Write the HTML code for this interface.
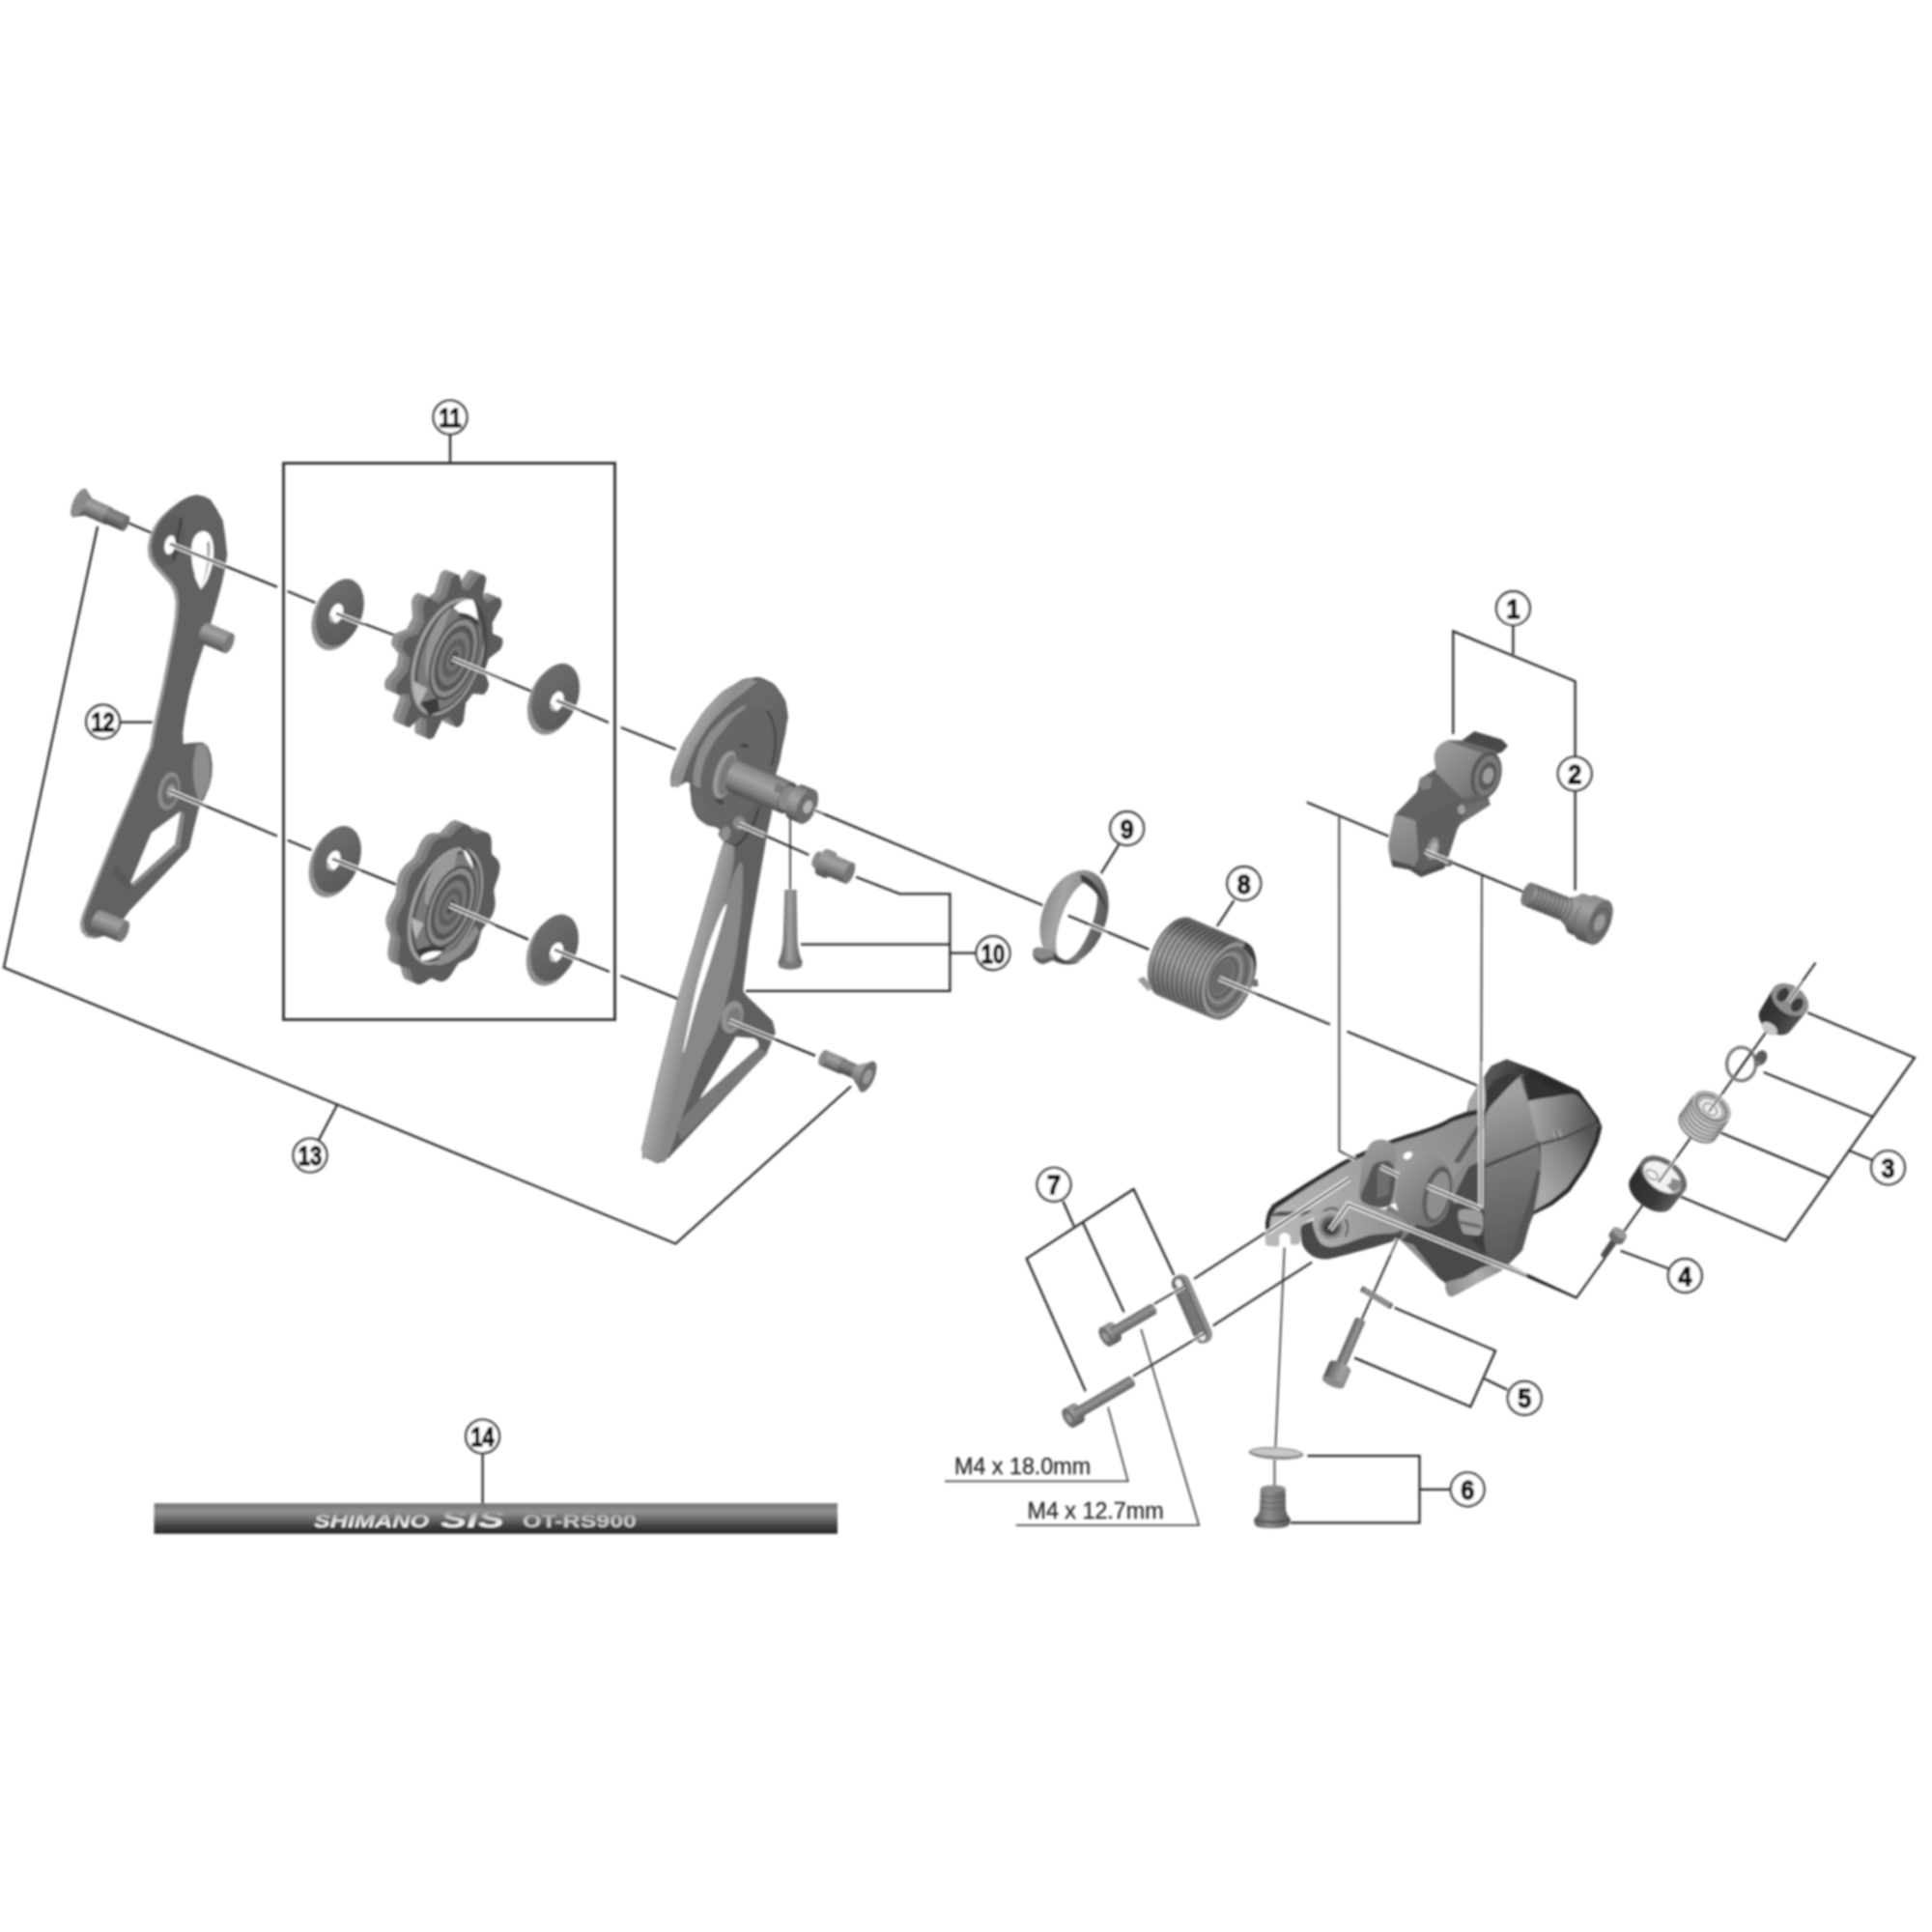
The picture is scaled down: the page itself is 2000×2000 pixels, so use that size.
<!DOCTYPE html>
<html><head><meta charset="utf-8"><title>RD exploded view</title>
<style>html,body{margin:0;padding:0;background:#fff}svg{display:block}</style></head>
<body><svg width="2000" height="2000" viewBox="0 0 2000 2000">
<defs><filter id="soft" x="0" y="0" width="2000" height="2000" filterUnits="userSpaceOnUse"><feGaussianBlur stdDeviation="0.85"/></filter><linearGradient id="mg1" x1="0" y1="0" x2="0" y2="1"><stop offset="0" stop-color="#8a8a8a"/><stop offset="0.35" stop-color="#a2a2a2"/><stop offset="0.7" stop-color="#7a7a7a"/><stop offset="1" stop-color="#525252"/></linearGradient><linearGradient id="mg2" x1="0" y1="0" x2="0" y2="1"><stop offset="0" stop-color="#707070"/><stop offset="0.35" stop-color="#8a8a8a"/><stop offset="0.7" stop-color="#666"/><stop offset="1" stop-color="#444"/></linearGradient><linearGradient id="pl12" gradientUnits="userSpaceOnUse" x1="150" y1="520" x2="240" y2="560"><stop offset="0" stop-color="#6a6a6a"/><stop offset="1" stop-color="#5a5a5a"/></linearGradient><linearGradient id="w3" x1="0" y1="0" x2="1" y2="1"><stop offset="0" stop-color="#727272"/><stop offset="1" stop-color="#565656"/></linearGradient><linearGradient id="w4" x1="0" y1="0" x2="1" y2="1"><stop offset="0" stop-color="#727272"/><stop offset="1" stop-color="#565656"/></linearGradient><linearGradient id="w5" x1="0" y1="0" x2="1" y2="1"><stop offset="0" stop-color="#727272"/><stop offset="1" stop-color="#565656"/></linearGradient><linearGradient id="w6" x1="0" y1="0" x2="1" y2="1"><stop offset="0" stop-color="#727272"/><stop offset="1" stop-color="#565656"/></linearGradient><linearGradient id="armd" gradientUnits="userSpaceOnUse" x1="700" y1="1000" x2="800" y2="1030"><stop offset="0" stop-color="#6c6c6c"/><stop offset="1" stop-color="#585858"/></linearGradient><linearGradient id="arml" gradientUnits="userSpaceOnUse" x1="690" y1="1000" x2="730" y2="1010"><stop offset="0" stop-color="#8c8c8c"/><stop offset="0.5" stop-color="#a8a8a8"/><stop offset="1" stop-color="#8a8a8a"/></linearGradient><linearGradient id="disc" gradientUnits="userSpaceOnUse" x1="700" y1="740" x2="820" y2="800"><stop offset="0" stop-color="#5c5c5c"/><stop offset="0.5" stop-color="#6a6a6a"/><stop offset="1" stop-color="#5e5e5e"/></linearGradient><linearGradient id="flg" gradientUnits="userSpaceOnUse" x1="700" y1="740" x2="730" y2="760"><stop offset="0" stop-color="#8e8e8e"/><stop offset="0.5" stop-color="#aaaaaa"/><stop offset="1" stop-color="#909090"/></linearGradient><linearGradient id="mg7" x1="0" y1="0" x2="0" y2="1"><stop offset="0" stop-color="#5a5a5a"/><stop offset="0.15" stop-color="#8a8a8a"/><stop offset="0.45" stop-color="#a4a4a4"/><stop offset="0.75" stop-color="#808080"/><stop offset="1" stop-color="#4a4a4a"/></linearGradient><linearGradient id="pin" gradientUnits="userSpaceOnUse" x1="810" y1="0" x2="828" y2="0"><stop offset="0" stop-color="#6a6a6a"/><stop offset="0.4" stop-color="#a0a0a0"/><stop offset="1" stop-color="#666"/></linearGradient><linearGradient id="rg9" gradientUnits="userSpaceOnUse" x1="1078" y1="940" x2="1148" y2="960"><stop offset="0" stop-color="#8a8a8a"/><stop offset="0.25" stop-color="#a6a6a6"/><stop offset="0.5" stop-color="#8c8c8c"/><stop offset="0.8" stop-color="#666"/><stop offset="1" stop-color="#555"/></linearGradient><linearGradient id="mg8" x1="0" y1="0" x2="0" y2="1"><stop offset="0" stop-color="#333"/><stop offset="0.12" stop-color="#4a4a4a"/><stop offset="0.3" stop-color="#8e8e8e"/><stop offset="0.55" stop-color="#9c9c9c"/><stop offset="0.8" stop-color="#6e6e6e"/><stop offset="1" stop-color="#444"/></linearGradient><linearGradient id="p1a" gradientUnits="userSpaceOnUse" x1="1440" y1="840" x2="1470" y2="900"><stop offset="0" stop-color="#9a9a9a"/><stop offset="1" stop-color="#7a7a7a"/></linearGradient><linearGradient id="p1c" gradientUnits="userSpaceOnUse" x1="1490" y1="770" x2="1540" y2="830"><stop offset="0" stop-color="#9c9c9c"/><stop offset="0.6" stop-color="#808080"/><stop offset="1" stop-color="#666"/></linearGradient><linearGradient id="mg9" x1="0" y1="0" x2="0" y2="1"><stop offset="0" stop-color="#6a6a6a"/><stop offset="0.3" stop-color="#9a9a9a"/><stop offset="0.7" stop-color="#777"/><stop offset="1" stop-color="#4c4c4c"/></linearGradient><linearGradient id="hzb" gradientUnits="userSpaceOnUse" x1="1545.9" y1="1101.8" x2="1650.1" y2="1154.9"><stop offset="0" stop-color="#5a5a5a"/><stop offset="0.35" stop-color="#2e2e2e"/><stop offset="1" stop-color="#262626"/></linearGradient><linearGradient id="hze" gradientUnits="userSpaceOnUse" x1="1575.4" y1="1149.0" x2="1646.2" y2="1154.9"><stop offset="0" stop-color="#b2b2b2"/><stop offset="0.45" stop-color="#8c8c8c"/><stop offset="1" stop-color="#585858"/></linearGradient><linearGradient id="hzf" gradientUnits="userSpaceOnUse" x1="1591.1" y1="1227.7" x2="1654.1" y2="1184.4"><stop offset="0" stop-color="#aaaaaa"/><stop offset="0.55" stop-color="#868686"/><stop offset="1" stop-color="#545454"/></linearGradient><linearGradient id="hzc" gradientUnits="userSpaceOnUse" x1="1541.9" y1="1139.2" x2="1585.2" y2="1286.7"><stop offset="0" stop-color="#a0a0a0"/><stop offset="0.45" stop-color="#787878"/><stop offset="1" stop-color="#5c5c5c"/></linearGradient><linearGradient id="hzm" gradientUnits="userSpaceOnUse" x1="1496.7" y1="1335.9" x2="1561.6" y2="1306.4"><stop offset="0" stop-color="#8a8a8a"/><stop offset="0.5" stop-color="#b0b0b0"/><stop offset="1" stop-color="#808080"/></linearGradient><linearGradient id="lk1" gradientUnits="userSpaceOnUse" x1="1319.7" y1="1286.7" x2="1516.4" y2="1158.8"><stop offset="0" stop-color="#b8b8b8"/><stop offset="0.5" stop-color="#a2a2a2"/><stop offset="1" stop-color="#8c8c8c"/></linearGradient><linearGradient id="lk2" gradientUnits="userSpaceOnUse" x1="1359.0" y1="1286.7" x2="1449.5" y2="1259.2"><stop offset="0" stop-color="#b0b0b0"/><stop offset="1" stop-color="#909090"/></linearGradient><linearGradient id="kn1" gradientUnits="userSpaceOnUse" x1="1410.1" y1="1184.4" x2="1445.6" y2="1247.4"><stop offset="0" stop-color="#9c9c9c"/><stop offset="1" stop-color="#787878"/></linearGradient><linearGradient id="kn2" gradientUnits="userSpaceOnUse" x1="1445.6" y1="1200.1" x2="1504.6" y2="1267.0"><stop offset="0" stop-color="#a0a0a0"/><stop offset="0.6" stop-color="#7e7e7e"/><stop offset="1" stop-color="#686868"/></linearGradient><linearGradient id="mg10" x1="0" y1="0" x2="0" y2="1"><stop offset="0" stop-color="#555"/><stop offset="0.4" stop-color="#3c3c3c"/><stop offset="1" stop-color="#2e2e2e"/></linearGradient><linearGradient id="mg11" x1="0" y1="0" x2="0" y2="1"><stop offset="0" stop-color="#5e5e5e"/><stop offset="0.35" stop-color="#3a3a3a"/><stop offset="1" stop-color="#2c2c2c"/></linearGradient><linearGradient id="mg12" x1="0" y1="0" x2="0" y2="1"><stop offset="0" stop-color="#666"/><stop offset="0.4" stop-color="#969696"/><stop offset="1" stop-color="#5c5c5c"/></linearGradient><linearGradient id="b6" gradientUnits="userSpaceOnUse" x1="1298" y1="0" x2="1336" y2="0"><stop offset="0" stop-color="#5a5a5a"/><stop offset="0.4" stop-color="#8e8e8e"/><stop offset="1" stop-color="#555"/></linearGradient><linearGradient id="cab" gradientUnits="userSpaceOnUse" x1="0" y1="1556" x2="0" y2="1588"><stop offset="0" stop-color="#666"/><stop offset="0.08" stop-color="#7c7c7c"/><stop offset="0.28" stop-color="#929292"/><stop offset="0.52" stop-color="#6a6a6a"/><stop offset="0.78" stop-color="#3c3c3c"/><stop offset="1" stop-color="#282828"/></linearGradient><linearGradient id="ctx" gradientUnits="userSpaceOnUse" x1="0" y1="1564" x2="0" y2="1581"><stop offset="0" stop-color="#8a8a8a"/><stop offset="0.5" stop-color="#d8d8d8"/><stop offset="1" stop-color="#fff"/></linearGradient></defs>
<rect width="2000" height="2000" fill="#fff"/>
<g filter="url(#soft)">
<polyline points="101.0,545.0 4.0,1001.5 699.4,1287.5 881.0,1124.5" fill="none" stroke="#242424" stroke-width="2.25" />
<polyline points="348.9,1144.0 329.5,1181.0" fill="none" stroke="#242424" stroke-width="2.25" />
<polyline points="124.0,747.7 158.0,747.7" fill="none" stroke="#242424" stroke-width="2.25" />
<polyline points="466.0,450.0 466.0,479.0" fill="none" stroke="#242424" stroke-width="2.25" />
<rect x="293.5" y="479.5" width="343" height="576" fill="none" stroke="#3a3a3a" stroke-width="3"/>
<polyline points="132.0,541.0 160.0,553.0" fill="none" stroke="#242424" stroke-width="2.25" />
<polyline points="176.0,563.0 287.0,607.6" fill="none" stroke="#242424" stroke-width="2.25" />
<polyline points="297.6,612.0 326.6,624.0" fill="none" stroke="#242424" stroke-width="2.25" />
<polyline points="348.0,635.0 415.0,660.0" fill="none" stroke="#242424" stroke-width="2.25" />
<polyline points="468.0,681.6 551.0,716.0" fill="none" stroke="#242424" stroke-width="2.25" />
<polyline points="576.0,725.0 630.0,748.0" fill="none" stroke="#242424" stroke-width="2.25" />
<polyline points="642.8,753.0 699.7,775.7" fill="none" stroke="#242424" stroke-width="2.25" />
<polyline points="176.0,819.0 287.0,865.5" fill="none" stroke="#242424" stroke-width="2.25" />
<polyline points="297.6,869.7 322.4,880.0" fill="none" stroke="#242424" stroke-width="2.25" />
<polyline points="344.0,889.0 410.0,915.6" fill="none" stroke="#242424" stroke-width="2.25" />
<polyline points="465.0,937.0 547.0,972.6" fill="none" stroke="#242424" stroke-width="2.25" />
<polyline points="574.0,983.0 631.0,1006.0" fill="none" stroke="#242424" stroke-width="2.25" />
<polyline points="642.4,1010.0 701.4,1033.9" fill="none" stroke="#242424" stroke-width="2.25" />
<polyline points="755.0,1056.6 844.0,1092.9" fill="none" stroke="#242424" stroke-width="2.25" />
<polyline points="842.6,838.4 1079.7,937.3" fill="none" stroke="#242424" stroke-width="2.25" />
<polyline points="1105.6,947.7 1189.4,982.9" fill="none" stroke="#242424" stroke-width="2.25" />
<polyline points="1261.9,1012.9 1376.8,1060.5" fill="none" stroke="#242424" stroke-width="2.25" />
<polyline points="1394.4,1067.8 1530.0,1124.0" fill="none" stroke="#242424" stroke-width="2.25" />
<polyline points="765.0,853.0 837.4,885.0" fill="none" stroke="#242424" stroke-width="2.25" />
<polyline points="818.0,844.0 818.0,921.0" fill="none" stroke="#242424" stroke-width="1.6" />
<polyline points="886.0,907.8 931.6,925.4 983.4,925.4 983.4,1025.8 772.0,1025.8" fill="none" stroke="#242424" stroke-width="2.25" />
<polyline points="829.0,977.7 983.4,977.7" fill="none" stroke="#242424" stroke-width="2.25" />
<polyline points="983.4,986.6 1010.0,986.6" fill="none" stroke="#242424" stroke-width="2.25" />
<polyline points="1158.4,874.2 1139.8,904.2" fill="none" stroke="#242424" stroke-width="2.25" />
<polyline points="1277.4,932.2 1259.8,959.0" fill="none" stroke="#242424" stroke-width="2.25" />
<polyline points="1566.4,648.0 1566.4,677.3" fill="none" stroke="#242424" stroke-width="2.25" />
<polyline points="1504.3,760.0 1504.3,653.5 1630.6,705.3 1630.6,783.0" fill="none" stroke="#242424" stroke-width="2.25" />
<polyline points="1630.6,819.0 1630.6,921.6" fill="none" stroke="#242424" stroke-width="2.25" />
<polyline points="1352.8,830.5 1437.7,865.7" fill="none" stroke="#242424" stroke-width="2.25" />
<polyline points="1475.0,881.2 1578.4,923.7" fill="none" stroke="#242424" stroke-width="2.25" />
<polyline points="1386.3,846.0 1386.4,1191.3 1402.7,1199.9" fill="none" stroke="#444" stroke-width="2.0" />
<polyline points="1534.0,907.0 1533.0,1251.0" fill="none" stroke="#444" stroke-width="2.0" />
<polyline points="1879.5,996.6 1632.0,1343.4 1552.3,1306.2" fill="none" stroke="#242424" stroke-width="2.0" />
<polyline points="1871.2,1048.3 1982.0,1094.9 1848.4,1284.3 1739.8,1238.8" fill="none" stroke="#242424" stroke-width="2.25" />
<polyline points="1825.7,1110.0 1938.5,1156.0" fill="none" stroke="#242424" stroke-width="2.25" />
<polyline points="1781.2,1172.5 1893.0,1219.1" fill="none" stroke="#242424" stroke-width="2.25" />
<polyline points="1914.7,1191.2 1939.5,1201.5" fill="none" stroke="#242424" stroke-width="2.25" />
<polyline points="1677.6,1294.7 1727.3,1313.3" fill="none" stroke="#242424" stroke-width="2.25" />
<polyline points="1447.0,1282.2 1408.9,1367.6" fill="none" stroke="#242424" stroke-width="2.0" />
<polyline points="1443.6,1353.8 1548.1,1398.3 1522.3,1456.3 1402.2,1405.6" fill="none" stroke="#242424" stroke-width="2.25" />
<polyline points="1536.7,1427.3 1560.6,1438.7" fill="none" stroke="#242424" stroke-width="2.25" />
<polyline points="1329.7,1291.5 1320.4,1497.7" fill="none" stroke="#555" stroke-width="2.0" />
<polyline points="1319.4,1511.2 1319.4,1538.0" fill="none" stroke="#555" stroke-width="2.0" />
<polyline points="1353.5,1507.0 1469.5,1507.0 1469.5,1576.4 1336.0,1576.4" fill="none" stroke="#242424" stroke-width="2.25" />
<polyline points="1469.5,1541.8 1501.6,1541.8" fill="none" stroke="#242424" stroke-width="2.25" />
<polyline points="1100.4,1243.5 1111.8,1269.4" fill="none" stroke="#242424" stroke-width="2.25" />
<polyline points="1123.8,1440.2 1062.7,1302.9 1173.5,1231.0 1215.3,1320.0" fill="none" stroke="#242424" stroke-width="2.25" />
<polyline points="1121.1,1265.8 1163.6,1358.4" fill="none" stroke="#242424" stroke-width="2.25" />
<polyline points="1194.6,1350.0 1224.6,1332.5" fill="none" stroke="#242424" stroke-width="2.0" />
<polyline points="1236.0,1323.8 1397.2,1220.0" fill="none" stroke="#242424" stroke-width="2.0" />
<polyline points="1172.9,1424.6 1244.3,1382.2" fill="none" stroke="#242424" stroke-width="2.0" />
<polyline points="1255.7,1372.3 1358.2,1306.6" fill="none" stroke="#242424" stroke-width="2.0" />
<polyline points="978.0,1533.3 1167.7,1533.3 1147.0,1456.7" fill="none" stroke="#4a4a4a" stroke-width="1.8" />
<polyline points="1051.8,1578.9 1241.2,1578.9 1181.2,1376.0" fill="none" stroke="#4a4a4a" stroke-width="1.8" />
<text x="988" y="1525.5" font-family="Liberation Sans, sans-serif" font-size="23.3" fill="#2c2c2c" stroke="#2c2c2c" stroke-width="0.3">M4 x 18.0mm</text>
<text x="1063.5" y="1571.5" font-family="Liberation Sans, sans-serif" font-size="23.3" fill="#2c2c2c" stroke="#2c2c2c" stroke-width="0.3">M4 x 12.7mm</text>
<polyline points="499.6,1505.0 499.6,1557.0" fill="none" stroke="#242424" stroke-width="2.25" />
<circle cx="466.0" cy="432.0" r="17.4" fill="#fff" stroke="#333" stroke-width="2.4"/>
<text x="0" y="0" transform="translate(466.0 442.0) scale(0.78 1)" text-anchor="middle" font-family="Liberation Sans, sans-serif" font-weight="bold" font-size="28" fill="#0a0a0a" stroke="#0a0a0a" stroke-width="1.3">11</text>
<circle cx="106.6" cy="747.1" r="17.4" fill="#fff" stroke="#333" stroke-width="2.4"/>
<text x="0" y="0" transform="translate(106.6 757.1) scale(0.78 1)" text-anchor="middle" font-family="Liberation Sans, sans-serif" font-weight="bold" font-size="28" fill="#0a0a0a" stroke="#0a0a0a" stroke-width="1.3">12</text>
<circle cx="321.0" cy="1196.0" r="17.4" fill="#fff" stroke="#333" stroke-width="2.4"/>
<text x="0" y="0" transform="translate(321.0 1206.0) scale(0.78 1)" text-anchor="middle" font-family="Liberation Sans, sans-serif" font-weight="bold" font-size="28" fill="#0a0a0a" stroke="#0a0a0a" stroke-width="1.3">13</text>
<circle cx="499.6" cy="1487.0" r="17.4" fill="#fff" stroke="#333" stroke-width="2.4"/>
<text x="0" y="0" transform="translate(499.6 1497.0) scale(0.78 1)" text-anchor="middle" font-family="Liberation Sans, sans-serif" font-weight="bold" font-size="28" fill="#0a0a0a" stroke="#0a0a0a" stroke-width="1.3">14</text>
<circle cx="1028.0" cy="986.6" r="17.4" fill="#fff" stroke="#333" stroke-width="2.4"/>
<text x="0" y="0" transform="translate(1028.0 996.6) scale(0.78 1)" text-anchor="middle" font-family="Liberation Sans, sans-serif" font-weight="bold" font-size="28" fill="#0a0a0a" stroke="#0a0a0a" stroke-width="1.3">10</text>
<circle cx="1166.7" cy="857.6" r="17.4" fill="#fff" stroke="#333" stroke-width="2.4"/>
<text x="0" y="0" transform="translate(1166.7 867.6) scale(0.9 1)" text-anchor="middle" font-family="Liberation Sans, sans-serif" font-weight="bold" font-size="28" fill="#0a0a0a" stroke="#0a0a0a" stroke-width="1.3">9</text>
<circle cx="1287.8" cy="914.6" r="17.4" fill="#fff" stroke="#333" stroke-width="2.4"/>
<text x="0" y="0" transform="translate(1287.8 924.6) scale(0.9 1)" text-anchor="middle" font-family="Liberation Sans, sans-serif" font-weight="bold" font-size="28" fill="#0a0a0a" stroke="#0a0a0a" stroke-width="1.3">8</text>
<circle cx="1566.4" cy="629.7" r="17.4" fill="#fff" stroke="#333" stroke-width="2.4"/>
<text x="0" y="0" transform="translate(1566.4 639.7) scale(0.9 1)" text-anchor="middle" font-family="Liberation Sans, sans-serif" font-weight="bold" font-size="28" fill="#0a0a0a" stroke="#0a0a0a" stroke-width="1.3">1</text>
<circle cx="1630.2" cy="801.0" r="17.4" fill="#fff" stroke="#333" stroke-width="2.4"/>
<text x="0" y="0" transform="translate(1630.2 811.0) scale(0.9 1)" text-anchor="middle" font-family="Liberation Sans, sans-serif" font-weight="bold" font-size="28" fill="#0a0a0a" stroke="#0a0a0a" stroke-width="1.3">2</text>
<circle cx="1954.5" cy="1208.8" r="17.4" fill="#fff" stroke="#333" stroke-width="2.4"/>
<text x="0" y="0" transform="translate(1954.5 1218.8) scale(0.9 1)" text-anchor="middle" font-family="Liberation Sans, sans-serif" font-weight="bold" font-size="28" fill="#0a0a0a" stroke="#0a0a0a" stroke-width="1.3">3</text>
<circle cx="1744.3" cy="1320.6" r="17.4" fill="#fff" stroke="#333" stroke-width="2.4"/>
<text x="0" y="0" transform="translate(1744.3 1330.6) scale(0.9 1)" text-anchor="middle" font-family="Liberation Sans, sans-serif" font-weight="bold" font-size="28" fill="#0a0a0a" stroke="#0a0a0a" stroke-width="1.3">4</text>
<circle cx="1578.2" cy="1447.4" r="17.4" fill="#fff" stroke="#333" stroke-width="2.4"/>
<text x="0" y="0" transform="translate(1578.2 1457.4) scale(0.9 1)" text-anchor="middle" font-family="Liberation Sans, sans-serif" font-weight="bold" font-size="28" fill="#0a0a0a" stroke="#0a0a0a" stroke-width="1.3">5</text>
<circle cx="1519.2" cy="1541.8" r="17.4" fill="#fff" stroke="#333" stroke-width="2.4"/>
<text x="0" y="0" transform="translate(1519.2 1551.8) scale(0.9 1)" text-anchor="middle" font-family="Liberation Sans, sans-serif" font-weight="bold" font-size="28" fill="#0a0a0a" stroke="#0a0a0a" stroke-width="1.3">6</text>
<circle cx="1091.0" cy="1226.3" r="17.4" fill="#fff" stroke="#333" stroke-width="2.4"/>
<text x="0" y="0" transform="translate(1091.0 1236.3) scale(0.9 1)" text-anchor="middle" font-family="Liberation Sans, sans-serif" font-weight="bold" font-size="28" fill="#0a0a0a" stroke="#0a0a0a" stroke-width="1.3">7</text>
<g transform="translate(84.0 521.5) rotate(24)">
<path d="M-2.0,-16.0 L9.0,-9.0 A3.6,9.0 0 0 1 9.0,9.0 L-2.0,16.0 A6.4,16.0 0 0 1 -2.0,-16.0Z" fill="url(#mg2)"/>
<path d="M8.0,-9.5 L31.0,-9.5 A3.8,9.5 0 0 1 31.0,9.5 L8.0,9.5 A3.8,9.5 0 0 1 8.0,-9.5Z" fill="url(#mg1)"/>
<path d="M30.0,-8.5 L50.0,-8.5 A3.4,8.5 0 0 1 50.0,8.5 L30.0,8.5 A3.4,8.5 0 0 1 30.0,-8.5Z" fill="url(#mg2)"/>
<ellipse cx="50.0" cy="0" rx="3.4" ry="8.5" fill="#6e6e6e"/>
<ellipse cx="-2.0" cy="0" rx="6.4" ry="16.0" fill="#8a8a8a"/>
</g>
<polygon points="192.5,516.3 199.5,514.5 207.5,516.0 214.0,519.3 220.5,529.5 226.5,540.5 229.0,557.5 231.0,575.5 228.5,591.5 224.5,609.5 220.0,625.5 215.5,641.5 209.5,661.5 203.5,679.5 196.5,701.5 191.5,720.5 187.5,741.5 185.0,759.5 185.5,772.5 192.5,771.5 199.5,771.0 206.5,771.0 211.0,774.5 214.0,782.5 215.5,792.5 215.0,804.5 213.0,814.5 207.5,827.5 201.5,838.5 196.5,858.5 191.5,879.5 171.5,900.5 150.5,922.5 129.5,944.5 118.5,959.5 108.5,967.5 98.5,971.0 89.5,969.5 84.5,963.5 83.5,955.5 85.5,947.5 102.5,904.5 120.5,859.5 136.5,821.5 149.5,788.5 155.5,774.5 159.5,751.5 168.5,710.5 178.5,658.5 181.5,639.5 182.5,623.5 180.5,612.5 176.5,604.5 166.5,593.5 158.5,584.5 154.5,576.5 153.5,567.5 155.5,556.5 159.5,546.5 165.5,537.5 172.5,530.5 179.5,524.5 186.5,519.5" fill="#9b9b9b" stroke="#9b9b9b" stroke-width="1.5" stroke-linejoin="round"/>
<polygon points="196.0,514.8 203.0,513.0 211.0,514.5 217.5,517.8 224.0,528.0 230.0,539.0 232.5,556.0 234.5,574.0 232.0,590.0 228.0,608.0 223.5,624.0 219.0,640.0 213.0,660.0 207.0,678.0 200.0,700.0 195.0,719.0 191.0,740.0 188.5,758.0 189.0,771.0 196.0,770.0 203.0,769.5 210.0,769.5 214.5,773.0 217.5,781.0 219.0,791.0 218.5,803.0 216.5,813.0 211.0,826.0 205.0,837.0 200.0,857.0 195.0,878.0 175.0,899.0 154.0,921.0 133.0,943.0 122.0,958.0 112.0,966.0 102.0,969.5 93.0,968.0 88.0,962.0 87.0,954.0 89.0,946.0 106.0,903.0 124.0,858.0 140.0,820.0 153.0,787.0 159.0,773.0 163.0,750.0 172.0,709.0 182.0,657.0 185.0,638.0 186.0,622.0 184.0,611.0 180.0,603.0 170.0,592.0 162.0,583.0 158.0,575.0 157.0,566.0 159.0,555.0 163.0,545.0 169.0,536.0 176.0,529.0 183.0,523.0 190.0,518.0" fill="#626262" stroke="#626262" stroke-width="1.5" stroke-linejoin="round"/>
<path d="M203,771 L213,771 Q219,785 217,812 L207,832 Q198,810 200,790Z" fill="#8e8e8e" />
<ellipse cx="175.0" cy="560.0" rx="15.0" ry="27.0" fill="#5b5b5b" transform="rotate(14 175.0 560.0)" />
<path d="M188,536 Q183,560 180,580" fill="none" stroke="#3f3f3f" stroke-width="2.5"/>
<ellipse cx="176.0" cy="564.0" rx="5.5" ry="10.0" fill="#fff" transform="rotate(12 176.0 564.0)" />
<path d="M209.5,550 C218,549 222,560 221,575 C219,595 212,607 207.5,610 C205,603 201,598 201.5,594 C198.5,585 197.5,572 198.5,565 C199.5,556 204,551 209.5,550Z" fill="#fff" />
<path d="M217,560 C219,580 213,600 207,610 C213,598 216,580 214,562Z" fill="#9a9a9a" />
<polygon points="187.0,840.0 181.0,874.0 134.0,917.0 157.0,862.0" fill="#fff" />
<path d="M187,840 L181,874 L134,917 L139,917 L186,877 L191,842Z" fill="#8a8a8a" />
<ellipse cx="175.0" cy="819.0" rx="11.0" ry="20.0" fill="#8c8c8c" transform="rotate(12 175.0 819.0)" />
<ellipse cx="176.0" cy="819.0" rx="8.0" ry="15.0" fill="#6a6a6a" transform="rotate(12 176.0 819.0)" />
<ellipse cx="177.0" cy="819.0" rx="4.5" ry="7.0" fill="#9a9a9a" transform="rotate(12 177.0 819.0)" />
<path d="M120,895 L137,915 L133,922 L116,905Z" fill="#5a5a5a" />
<g transform="translate(211.0 655.0) rotate(23)">
<path d="M0.0,-11.0 L28.0,-11.0 A4.4,11.0 0 0 1 28.0,11.0 L0.0,11.0 A4.4,11.0 0 0 1 0.0,-11.0Z" fill="url(#mg1)"/>
<ellipse cx="28.0" cy="0" rx="4.4" ry="11.0" fill="#7a7a7a"/>
</g>
<g transform="translate(100.0 953.0) rotate(22)">
<path d="M0.0,-11.5 L30.0,-11.5 A4.6,11.5 0 0 1 30.0,11.5 L0.0,11.5 A4.6,11.5 0 0 1 0.0,-11.5Z" fill="url(#mg1)"/>
<ellipse cx="30.0" cy="0" rx="4.6" ry="11.5" fill="#7a7a7a"/>
</g>
<ellipse cx="347.9" cy="638.0" rx="23.5" ry="36.5" fill="#8f8f8f" transform="rotate(20 347.9 638.0)" />
<ellipse cx="351.9" cy="634.0" rx="23.0" ry="36.0" fill="url(#w3)" transform="rotate(20 351.9 634.0)" />
<ellipse cx="348.4" cy="635.0" rx="6.5" ry="10.5" fill="#fff" transform="rotate(20 348.4 635.0)" />
<path d="M342.4,638.0 q2,7 7,8" fill="none" stroke="#8a8a8a" stroke-width="1.5"/>
<ellipse cx="571.2" cy="725.5" rx="23.5" ry="36.5" fill="#8f8f8f" transform="rotate(20 571.2 725.5)" />
<ellipse cx="575.2" cy="721.5" rx="23.0" ry="36.0" fill="url(#w4)" transform="rotate(20 575.2 721.5)" />
<ellipse cx="576.7" cy="726.0" rx="6.5" ry="10.5" fill="#fff" transform="rotate(20 576.7 726.0)" />
<path d="M570.7,729.0 q2,7 7,8" fill="none" stroke="#8a8a8a" stroke-width="1.5"/>
<ellipse cx="345.0" cy="893.8" rx="23.5" ry="36.5" fill="#8f8f8f" transform="rotate(20 345.0 893.8)" />
<ellipse cx="349.0" cy="889.8" rx="23.0" ry="36.0" fill="url(#w5)" transform="rotate(20 349.0 889.8)" />
<ellipse cx="345.5" cy="890.8" rx="6.5" ry="10.5" fill="#fff" transform="rotate(20 345.5 890.8)" />
<path d="M339.5,893.8 q2,7 7,8" fill="none" stroke="#8a8a8a" stroke-width="1.5"/>
<ellipse cx="570.1" cy="985.3" rx="23.5" ry="36.5" fill="#8f8f8f" transform="rotate(20 570.1 985.3)" />
<ellipse cx="574.1" cy="981.3" rx="23.0" ry="36.0" fill="url(#w6)" transform="rotate(20 574.1 981.3)" />
<ellipse cx="576.1" cy="985.8" rx="6.5" ry="10.5" fill="#fff" transform="rotate(20 576.1 985.8)" />
<path d="M570.1,988.8 q2,7 7,8" fill="none" stroke="#8a8a8a" stroke-width="1.5"/>
<polygon points="477.0,712.3 474.6,715.8 472.1,719.1 469.5,722.2 467.0,741.5 463.9,746.0 460.3,747.3 453.6,735.9 450.8,737.4 448.0,738.6 445.3,739.5 436.4,757.8 432.8,759.7 430.1,757.8 430.3,739.6 428.0,738.6 425.8,737.4 423.8,735.9 411.5,747.4 408.5,746.1 407.6,741.6 414.5,722.3 413.5,719.2 412.6,715.9 411.9,712.5 400.0,713.5 398.6,709.4 399.7,703.8 411.3,689.6 411.8,685.3 412.5,681.0 413.4,676.7 405.7,666.9 406.4,661.3 409.1,656.4 421.6,651.7 423.5,647.6 425.6,643.7 427.8,639.8 426.7,622.4 429.2,617.1 432.8,614.3 442.2,620.8 444.9,618.2 447.7,615.8 450.5,613.7 456.4,594.1 459.9,590.8 463.2,591.1 466.6,606.6 469.2,606.3 471.8,606.3 474.3,606.6 485.3,591.1 488.7,590.7 490.6,594.0 486.9,613.6 488.7,615.7 490.3,618.1 491.7,620.7 504.3,614.2 506.5,617.0 506.5,622.2 496.8,639.7 497.1,643.5 497.2,647.5 497.1,651.5 507.3,656.1 507.7,661.1 505.7,666.6 493.1,676.5 491.9,680.8 490.4,685.1 488.8,689.4 493.4,703.6 491.8,709.2 488.4,713.3" fill="#929292" stroke="#929292" stroke-width="1.5" stroke-linejoin="round"/>
<polygon points="479.0,713.2 476.6,716.6 474.1,719.9 471.5,723.0 469.0,742.3 465.9,746.8 462.3,748.1 455.6,736.7 452.8,738.2 450.0,739.4 447.3,740.4 438.4,758.7 434.8,760.6 432.1,758.7 432.3,740.4 430.0,739.5 427.8,738.2 425.8,736.7 413.5,748.2 410.5,746.9 409.6,742.5 416.5,723.2 415.5,720.1 414.6,716.8 413.9,713.3 402.0,714.3 400.6,710.2 401.7,704.6 413.3,690.4 413.8,686.1 414.5,681.8 415.4,677.5 407.7,667.7 408.4,662.2 411.1,657.2 423.6,652.5 425.5,648.5 427.6,644.5 429.8,640.7 428.7,623.2 431.2,618.0 434.8,615.2 444.2,621.6 446.9,619.0 449.7,616.7 452.5,614.5 458.4,595.0 461.9,591.6 465.2,592.0 468.6,607.4 471.2,607.1 473.8,607.1 476.3,607.4 487.3,591.9 490.7,591.6 492.6,594.9 488.9,614.5 490.7,616.6 492.3,618.9 493.7,621.5 506.3,615.0 508.5,617.8 508.5,623.0 498.8,640.5 499.1,644.4 499.2,648.3 499.1,652.4 509.3,657.0 509.7,662.0 507.7,667.5 495.1,677.3 493.9,681.7 492.4,686.0 490.8,690.2 495.4,704.4 493.8,710.0 490.4,714.1" fill="#929292" stroke="#929292" stroke-width="1.5" stroke-linejoin="round"/>
<polygon points="481.0,714.0 478.6,717.5 476.1,720.8 473.5,723.9 471.0,743.2 467.9,747.6 464.3,748.9 457.6,737.5 454.8,739.0 452.0,740.2 449.3,741.2 440.4,759.5 436.8,761.4 434.1,759.5 434.3,741.2 432.0,740.3 429.8,739.1 427.8,737.6 415.5,749.0 412.5,747.8 411.6,743.3 418.5,724.0 417.5,720.9 416.6,717.6 415.9,714.1 404.0,715.1 402.6,711.1 403.7,705.5 415.3,691.2 415.8,687.0 416.5,682.7 417.4,678.3 409.7,668.5 410.4,663.0 413.1,658.0 425.6,653.4 427.5,649.3 429.6,645.3 431.8,641.5 430.7,624.0 433.2,618.8 436.8,616.0 446.2,622.4 448.9,619.8 451.7,617.5 454.5,615.4 460.4,595.8 463.9,592.5 467.2,592.8 470.6,608.2 473.2,608.0 475.8,608.0 478.3,608.2 489.3,592.7 492.7,592.4 494.6,595.7 490.9,615.3 492.7,617.4 494.3,619.8 495.7,622.3 508.3,615.9 510.5,618.6 510.5,623.9 500.8,641.4 501.1,645.2 501.2,649.1 501.1,653.2 511.3,657.8 511.7,662.8 509.7,668.3 497.1,678.2 495.9,682.5 494.4,686.8 492.8,691.1 497.4,705.3 495.8,710.9 492.4,714.9" fill="#929292" stroke="#929292" stroke-width="1.5" stroke-linejoin="round"/>
<polygon points="483.0,714.8 480.6,718.3 478.1,721.6 475.5,724.7 473.0,744.0 469.9,748.5 466.3,749.8 459.6,738.4 456.8,739.9 454.0,741.1 451.3,742.0 442.4,760.3 438.8,762.2 436.1,760.3 436.3,742.1 434.0,741.1 431.8,739.9 429.8,738.4 417.5,749.9 414.5,748.6 413.6,744.1 420.5,724.8 419.5,721.7 418.6,718.4 417.9,715.0 406.0,716.0 404.6,711.9 405.7,706.3 417.3,692.1 417.8,687.8 418.5,683.5 419.4,679.2 411.7,669.4 412.4,663.8 415.1,658.9 427.6,654.2 429.5,650.1 431.6,646.2 433.8,642.3 432.7,624.9 435.2,619.6 438.8,616.8 448.2,623.3 450.9,620.7 453.7,618.3 456.5,616.2 462.4,596.6 465.9,593.3 469.2,593.6 472.6,609.1 475.2,608.8 477.8,608.8 480.3,609.1 491.3,593.6 494.7,593.2 496.6,596.5 492.9,616.1 494.7,618.2 496.3,620.6 497.7,623.2 510.3,616.7 512.5,619.5 512.5,624.7 502.8,642.2 503.1,646.0 503.2,650.0 503.1,654.0 513.3,658.6 513.7,663.6 511.7,669.1 499.1,679.0 497.9,683.3 496.4,687.6 494.8,691.9 499.4,706.1 497.8,711.7 494.4,715.8" fill="#7e7e7e" stroke="#7e7e7e" stroke-width="1.5" stroke-linejoin="round"/>
<polygon points="485.0,715.7 482.6,719.1 480.1,722.4 477.5,725.5 475.0,744.8 471.9,749.3 468.3,750.6 461.6,739.2 458.8,740.7 456.0,741.9 453.3,742.9 444.4,761.2 440.8,763.1 438.1,761.2 438.3,742.9 436.0,742.0 433.8,740.7 431.8,739.2 419.5,750.7 416.5,749.4 415.6,745.0 422.5,725.7 421.5,722.6 420.6,719.3 419.9,715.8 408.0,716.8 406.6,712.7 407.7,707.1 419.3,692.9 419.8,688.6 420.5,684.3 421.4,680.0 413.7,670.2 414.4,664.7 417.1,659.7 429.6,655.0 431.5,651.0 433.6,647.0 435.8,643.2 434.7,625.7 437.2,620.5 440.8,617.7 450.2,624.1 452.9,621.5 455.7,619.2 458.5,617.0 464.4,597.5 467.9,594.1 471.2,594.5 474.6,609.9 477.2,609.6 479.8,609.6 482.3,609.9 493.3,594.4 496.7,594.1 498.6,597.4 494.9,617.0 496.7,619.1 498.3,621.4 499.7,624.0 512.3,617.5 514.5,620.3 514.5,625.5 504.8,643.0 505.1,646.9 505.2,650.8 505.1,654.9 515.3,659.5 515.7,664.5 513.7,670.0 501.1,679.8 499.9,684.2 498.4,688.5 496.8,692.7 501.4,706.9 499.8,712.5 496.4,716.6" fill="#7e7e7e" stroke="#7e7e7e" stroke-width="1.5" stroke-linejoin="round"/>
<polygon points="487.0,716.5 484.6,720.0 482.1,723.3 479.5,726.4 477.0,745.7 473.9,750.1 470.3,751.4 463.6,740.0 460.8,741.5 458.0,742.7 455.3,743.7 446.4,762.0 442.8,763.9 440.1,762.0 440.3,743.7 438.0,742.8 435.8,741.6 433.8,740.1 421.5,751.5 418.5,750.3 417.6,745.8 424.5,726.5 423.5,723.4 422.6,720.1 421.9,716.6 410.0,717.6 408.6,713.6 409.7,708.0 421.3,693.7 421.8,689.5 422.5,685.2 423.4,680.8 415.7,671.0 416.4,665.5 419.1,660.5 431.6,655.9 433.5,651.8 435.6,647.8 437.8,644.0 436.7,626.5 439.2,621.3 442.8,618.5 452.2,624.9 454.9,622.3 457.7,620.0 460.5,617.9 466.4,598.3 469.9,595.0 473.2,595.3 476.6,610.7 479.2,610.5 481.8,610.5 484.3,610.7 495.3,595.2 498.7,594.9 500.6,598.2 496.9,617.8 498.7,619.9 500.3,622.3 501.7,624.8 514.3,618.4 516.5,621.1 516.5,626.4 506.8,643.9 507.1,647.7 507.2,651.6 507.1,655.7 517.3,660.3 517.7,665.3 515.7,670.8 503.1,680.7 501.9,685.0 500.4,689.3 498.8,693.6 503.4,707.8 501.8,713.4 498.4,717.4" fill="#7e7e7e" stroke="#7e7e7e" stroke-width="1.5" stroke-linejoin="round"/>
<polygon points="489.0,717.3 486.6,720.8 484.1,724.1 481.5,727.2 479.0,746.5 475.9,751.0 472.3,752.3 465.6,740.9 462.8,742.4 460.0,743.6 457.3,744.5 448.4,762.8 444.8,764.7 442.1,762.8 442.3,744.6 440.0,743.6 437.8,742.4 435.8,740.9 423.5,752.4 420.5,751.1 419.6,746.6 426.5,727.3 425.5,724.2 424.6,720.9 423.9,717.5 412.0,718.5 410.6,714.4 411.7,708.8 423.3,694.6 423.8,690.3 424.5,686.0 425.4,681.7 417.7,671.9 418.4,666.3 421.1,661.4 433.6,656.7 435.5,652.6 437.6,648.7 439.8,644.8 438.7,627.4 441.2,622.1 444.8,619.3 454.2,625.8 456.9,623.2 459.7,620.8 462.5,618.7 468.4,599.1 471.9,595.8 475.2,596.1 478.6,611.6 481.2,611.3 483.8,611.3 486.3,611.6 497.3,596.1 500.7,595.7 502.6,599.0 498.9,618.6 500.7,620.7 502.3,623.1 503.7,625.7 516.3,619.2 518.5,622.0 518.5,627.2 508.8,644.7 509.1,648.5 509.2,652.5 509.1,656.5 519.3,661.1 519.7,666.1 517.7,671.6 505.1,681.5 503.9,685.8 502.4,690.1 500.8,694.4 505.4,708.6 503.8,714.2 500.4,718.3" fill="#5c5c5c" stroke="#5c5c5c" stroke-width="1.5" stroke-linejoin="round"/>
<ellipse cx="464.0" cy="679.8" rx="34.0" ry="63.5" fill="#a0a0a0" transform="rotate(20 464.0 679.8)" />
<ellipse cx="464.8" cy="680.2" rx="31.2" ry="60.0" fill="#545454" transform="rotate(20 464.8 680.2)" />
<ellipse cx="465.5" cy="680.6" rx="28.8" ry="56.5" fill="#7a7a7a" transform="rotate(20 465.5 680.6)" />
<path d="M441,700 C437,670 449,640 468,628 C458,650 450,676 448,712Z" fill="#949494" />
<path d="M489,621 C505,630 509,660 500,700 C503,665 500,640 489,628Z" fill="#484848" />
<path d="M469.5,629 C476,622 484,620 489.5,621 C493,627 494,635 494.5,642 C489,637 482,634 476,634.5Z" fill="#fff" />
<path d="M476,634.5 C482,634 489,637 494.5,642 L497,650 C490,642 482,638 474,638Z" fill="#3e3e3e" />
<path d="M428.4,705 L442.5,713 L433.5,731 Q428,720 428.4,705Z" fill="#b6b6b6" />
<path d="M437,727 L453,722 L455,736 L444,741Z" fill="#3c3c3c" />
<ellipse cx="470.0" cy="681.5" rx="22.5" ry="45.0" fill="#4c4c4c" transform="rotate(20 470.0 681.5)" />
<ellipse cx="470.0" cy="681.5" rx="20.5" ry="42.0" fill="#8c8c8c" transform="rotate(20 470.0 681.5)" />
<ellipse cx="470.0" cy="681.5" rx="17.5" ry="36.0" fill="#565656" transform="rotate(20 470.0 681.5)" />
<ellipse cx="470.0" cy="681.5" rx="14.0" ry="29.0" fill="#787878" transform="rotate(20 470.0 681.5)" />
<ellipse cx="470.0" cy="681.5" rx="10.5" ry="21.0" fill="#5e5e5e" transform="rotate(20 470.0 681.5)" />
<ellipse cx="470.0" cy="681.5" rx="7.0" ry="14.0" fill="#727272" transform="rotate(20 470.0 681.5)" />
<ellipse cx="470.0" cy="681.5" rx="4.0" ry="8.0" fill="#505050" transform="rotate(20 470.0 681.5)" />
<polygon points="486.9,958.3 485.7,961.9 484.7,966.0 483.7,970.2 482.4,974.4 480.7,978.4 478.7,981.9 476.3,984.7 473.7,986.8 471.0,988.4 468.3,989.5 465.7,990.6 463.3,992.0 461.2,994.9 459.0,998.4 456.8,1002.0 454.4,1005.4 451.9,1008.2 449.4,1010.1 446.9,1010.9 444.5,1010.8 442.3,1010.0 440.2,1008.7 438.3,1007.5 436.3,1006.9 433.9,1008.0 431.3,1009.8 428.5,1011.7 425.8,1013.2 423.3,1013.9 421.0,1013.6 419.2,1012.3 417.8,1010.0 416.8,1007.0 416.0,1003.8 415.3,1000.6 414.4,998.2 412.5,997.2 410.2,996.8 407.9,996.3 405.7,995.4 403.9,993.8 402.7,991.4 402.1,988.3 402.1,984.5 402.6,980.4 403.4,976.2 404.2,972.1 404.6,968.6 403.8,965.8 402.6,963.3 401.4,960.6 400.4,957.6 400.0,954.2 400.1,950.5 401.0,946.6 402.4,942.5 404.3,938.5 406.4,934.7 408.4,931.1 410.0,927.5 410.6,923.9 410.9,920.0 411.2,916.0 411.7,911.8 412.7,907.8 414.2,903.9 416.3,900.4 418.7,897.4 421.3,894.8 424.0,892.5 426.6,890.4 428.9,888.1 430.7,884.7 432.3,880.7 434.0,876.6 435.9,872.7 438.1,869.2 440.5,866.4 443.0,864.4 445.6,863.4 448.2,863.0 450.7,863.1 453.0,863.2 455.3,862.7 457.7,860.6 460.2,857.9 462.7,855.0 465.4,852.5 468.0,850.7 470.5,849.8 472.8,850.1 474.8,851.3 476.5,853.3 477.9,855.6 479.3,857.9 480.8,859.5 483.0,859.4 485.6,858.7 488.2,858.0 490.8,857.7 493.1,858.2 494.9,859.5 496.1,861.9 496.9,865.0 497.1,868.7 497.1,872.6 497.0,876.3 497.4,879.5 498.7,881.4 500.5,883.0 502.4,884.6 504.0,886.7 505.2,889.3 505.8,892.4 505.6,896.1 504.8,900.2 503.6,904.4 502.1,908.6 500.6,912.6 499.6,916.3 499.7,919.6 500.2,923.0 500.7,926.5 500.9,930.2 500.6,934.1 499.7,938.0 498.2,941.9 496.2,945.6 493.8,949.0 491.3,952.2 489.0,955.2" fill="#929292" stroke="#929292" stroke-width="1.5" stroke-linejoin="round"/>
<polygon points="488.8,959.0 487.6,962.7 486.6,966.7 485.5,971.0 484.2,975.2 482.6,979.2 480.5,982.6 478.2,985.5 475.5,987.6 472.8,989.1 470.1,990.2 467.5,991.3 465.1,992.8 463.0,995.6 460.9,999.1 458.6,1002.7 456.2,1006.1 453.7,1008.9 451.2,1010.8 448.7,1011.7 446.3,1011.6 444.1,1010.7 442.0,1009.5 440.1,1008.2 438.1,1007.7 435.7,1008.8 433.1,1010.6 430.4,1012.5 427.7,1013.9 425.1,1014.6 422.8,1014.3 421.0,1013.0 419.6,1010.7 418.6,1007.8 417.9,1004.5 417.2,1001.4 416.2,998.9 414.3,998.0 412.1,997.5 409.7,997.0 407.5,996.1 405.7,994.5 404.5,992.1 403.9,989.0 403.9,985.2 404.5,981.1 405.3,976.9 406.0,972.9 406.4,969.3 405.6,966.6 404.5,964.0 403.2,961.3 402.3,958.3 401.8,955.0 402.0,951.3 402.8,947.3 404.3,943.3 406.2,939.3 408.3,935.4 410.2,931.8 411.8,928.3 412.4,924.6 412.7,920.8 413.0,916.7 413.6,912.6 414.6,908.5 416.1,904.6 418.1,901.1 420.5,898.1 423.2,895.5 425.9,893.3 428.5,891.2 430.8,888.8 432.5,885.4 434.1,881.5 435.8,877.4 437.8,873.4 439.9,869.9 442.3,867.1 444.9,865.2 447.5,864.1 450.0,863.8 452.5,863.8 454.9,863.9 457.2,863.5 459.5,861.4 462.0,858.6 464.6,855.8 467.2,853.2 469.9,851.4 472.4,850.6 474.6,850.8 476.6,852.1 478.3,854.0 479.7,856.4 481.1,858.7 482.7,860.3 484.9,860.2 487.4,859.5 490.1,858.7 492.6,858.5 494.9,858.9 496.7,860.3 498.0,862.6 498.7,865.8 498.9,869.5 498.9,873.4 498.9,877.1 499.2,880.2 500.5,882.2 502.3,883.7 504.2,885.4 505.8,887.4 507.0,890.0 507.6,893.2 507.5,896.9 506.7,900.9 505.4,905.2 503.9,909.4 502.5,913.4 501.5,917.0 501.5,920.4 502.0,923.7 502.5,927.2 502.7,930.9 502.4,934.8 501.6,938.8 500.1,942.7 498.1,946.3 495.7,949.8 493.2,952.9 490.8,955.9" fill="#929292" stroke="#929292" stroke-width="1.5" stroke-linejoin="round"/>
<polygon points="490.6,959.8 489.4,963.4 488.4,967.5 487.3,971.7 486.1,975.9 484.4,979.9 482.4,983.4 480.0,986.2 477.4,988.3 474.7,989.9 471.9,991.0 469.4,992.1 467.0,993.5 464.8,996.4 462.7,999.9 460.5,1003.5 458.1,1006.9 455.6,1009.7 453.0,1011.6 450.5,1012.4 448.1,1012.3 445.9,1011.5 443.9,1010.2 441.9,1009.0 439.9,1008.4 437.6,1009.5 434.9,1011.3 432.2,1013.2 429.5,1014.7 426.9,1015.4 424.7,1015.1 422.8,1013.8 421.4,1011.5 420.4,1008.5 419.7,1005.3 419.0,1002.1 418.0,999.7 416.2,998.7 413.9,998.3 411.6,997.8 409.4,996.9 407.6,995.3 406.3,992.9 405.7,989.8 405.8,986.0 406.3,981.9 407.1,977.7 407.9,973.6 408.2,970.1 407.5,967.3 406.3,964.8 405.1,962.1 404.1,959.1 403.6,955.7 403.8,952.0 404.7,948.1 406.1,944.0 408.0,940.0 410.1,936.2 412.1,932.6 413.7,929.0 414.3,925.4 414.5,921.5 414.8,917.5 415.4,913.3 416.4,909.3 417.9,905.4 419.9,901.9 422.3,898.9 425.0,896.3 427.7,894.0 430.3,891.9 432.6,889.6 434.3,886.2 436.0,882.2 437.7,878.1 439.6,874.2 441.8,870.7 444.2,867.9 446.7,865.9 449.3,864.9 451.9,864.5 454.4,864.6 456.7,864.7 459.0,864.2 461.3,862.1 463.8,859.4 466.4,856.5 469.1,854.0 471.7,852.2 474.2,851.3 476.5,851.6 478.4,852.8 480.1,854.8 481.6,857.1 483.0,859.4 484.5,861.0 486.7,860.9 489.2,860.2 491.9,859.5 494.5,859.2 496.7,859.7 498.5,861.0 499.8,863.4 500.5,866.5 500.8,870.2 500.7,874.1 500.7,877.8 501.0,881.0 502.4,882.9 504.2,884.5 506.0,886.1 507.7,888.2 508.9,890.8 509.4,893.9 509.3,897.6 508.5,901.7 507.3,905.9 505.8,910.1 504.3,914.1 503.3,917.8 503.4,921.1 503.9,924.5 504.3,928.0 504.5,931.7 504.3,935.6 503.4,939.5 501.9,943.4 499.9,947.1 497.5,950.5 495.0,953.7 492.6,956.7" fill="#929292" stroke="#929292" stroke-width="1.5" stroke-linejoin="round"/>
<polygon points="492.4,960.5 491.2,964.2 490.2,968.2 489.2,972.5 487.9,976.7 486.2,980.7 484.2,984.1 481.8,987.0 479.2,989.1 476.5,990.6 473.8,991.7 471.2,992.8 468.8,994.3 466.7,997.1 464.5,1000.6 462.3,1004.2 459.9,1007.6 457.4,1010.4 454.9,1012.3 452.4,1013.2 450.0,1013.1 447.8,1012.2 445.7,1011.0 443.8,1009.7 441.8,1009.2 439.4,1010.3 436.8,1012.1 434.0,1014.0 431.3,1015.4 428.8,1016.1 426.5,1015.8 424.7,1014.5 423.3,1012.2 422.3,1009.3 421.5,1006.0 420.8,1002.9 419.9,1000.4 418.0,999.5 415.7,999.0 413.4,998.5 411.2,997.6 409.4,996.0 408.2,993.6 407.6,990.5 407.6,986.7 408.1,982.6 408.9,978.4 409.7,974.4 410.1,970.8 409.3,968.1 408.1,965.5 406.9,962.8 405.9,959.8 405.5,956.5 405.6,952.8 406.5,948.8 407.9,944.8 409.8,940.8 411.9,936.9 413.9,933.3 415.5,929.8 416.1,926.1 416.4,922.3 416.7,918.2 417.2,914.1 418.2,910.0 419.7,906.1 421.8,902.6 424.2,899.6 426.8,897.0 429.5,894.8 432.1,892.7 434.4,890.3 436.2,886.9 437.8,883.0 439.5,878.9 441.4,874.9 443.6,871.4 446.0,868.6 448.5,866.7 451.1,865.6 453.7,865.3 456.2,865.3 458.5,865.4 460.8,865.0 463.2,862.9 465.7,860.1 468.2,857.3 470.9,854.7 473.5,852.9 476.0,852.1 478.3,852.3 480.3,853.6 482.0,855.5 483.4,857.9 484.8,860.2 486.3,861.8 488.5,861.7 491.1,861.0 493.7,860.2 496.3,860.0 498.6,860.4 500.4,861.8 501.6,864.1 502.4,867.3 502.6,871.0 502.6,874.9 502.5,878.6 502.9,881.7 504.2,883.7 506.0,885.2 507.9,886.9 509.5,888.9 510.7,891.5 511.3,894.7 511.1,898.4 510.3,902.4 509.1,906.7 507.6,910.9 506.1,914.9 505.1,918.5 505.2,921.9 505.7,925.2 506.2,928.7 506.4,932.4 506.1,936.3 505.2,940.3 503.7,944.2 501.7,947.8 499.3,951.3 496.8,954.4 494.5,957.4" fill="#7e7e7e" stroke="#7e7e7e" stroke-width="1.5" stroke-linejoin="round"/>
<polygon points="494.3,961.3 493.1,964.9 492.1,969.0 491.0,973.2 489.7,977.4 488.1,981.4 486.0,984.9 483.7,987.7 481.0,989.8 478.3,991.4 475.6,992.5 473.0,993.6 470.6,995.0 468.5,997.9 466.4,1001.4 464.1,1005.0 461.7,1008.4 459.2,1011.2 456.7,1013.1 454.2,1013.9 451.8,1013.8 449.6,1013.0 447.5,1011.7 445.6,1010.5 443.6,1009.9 441.2,1011.0 438.6,1012.8 435.9,1014.7 433.2,1016.2 430.6,1016.9 428.3,1016.6 426.5,1015.3 425.1,1013.0 424.1,1010.0 423.4,1006.8 422.7,1003.6 421.7,1001.2 419.8,1000.2 417.6,999.8 415.2,999.3 413.0,998.4 411.2,996.8 410.0,994.4 409.4,991.3 409.4,987.5 410.0,983.4 410.8,979.2 411.5,975.1 411.9,971.6 411.1,968.8 410.0,966.3 408.7,963.6 407.8,960.6 407.3,957.2 407.5,953.5 408.3,949.6 409.8,945.5 411.7,941.5 413.8,937.7 415.7,934.1 417.3,930.5 417.9,926.9 418.2,923.0 418.5,919.0 419.1,914.8 420.1,910.8 421.6,906.9 423.6,903.4 426.0,900.4 428.7,897.8 431.4,895.5 434.0,893.4 436.3,891.1 438.0,887.7 439.6,883.7 441.3,879.6 443.3,875.7 445.4,872.2 447.8,869.4 450.4,867.4 453.0,866.4 455.5,866.0 458.0,866.1 460.4,866.2 462.7,865.7 465.0,863.6 467.5,860.9 470.1,858.0 472.7,855.5 475.4,853.7 477.9,852.8 480.1,853.1 482.1,854.3 483.8,856.3 485.2,858.6 486.6,860.9 488.2,862.5 490.4,862.4 492.9,861.7 495.6,861.0 498.1,860.7 500.4,861.2 502.2,862.5 503.5,864.9 504.2,868.0 504.4,871.7 504.4,875.6 504.4,879.3 504.7,882.5 506.0,884.4 507.8,886.0 509.7,887.6 511.3,889.7 512.5,892.3 513.1,895.4 513.0,899.1 512.2,903.2 510.9,907.4 509.4,911.6 508.0,915.6 507.0,919.3 507.0,922.6 507.5,926.0 508.0,929.5 508.2,933.2 507.9,937.1 507.1,941.0 505.6,944.9 503.6,948.6 501.2,952.0 498.7,955.2 496.3,958.2" fill="#7e7e7e" stroke="#7e7e7e" stroke-width="1.5" stroke-linejoin="round"/>
<polygon points="496.1,962.0 494.9,965.7 493.9,969.7 492.8,974.0 491.6,978.2 489.9,982.2 487.9,985.6 485.5,988.5 482.9,990.6 480.2,992.1 477.4,993.2 474.9,994.3 472.5,995.8 470.3,998.6 468.2,1002.1 466.0,1005.7 463.6,1009.1 461.1,1011.9 458.5,1013.8 456.0,1014.7 453.6,1014.6 451.4,1013.7 449.4,1012.5 447.4,1011.2 445.4,1010.7 443.1,1011.8 440.4,1013.6 437.7,1015.5 435.0,1016.9 432.4,1017.6 430.2,1017.3 428.3,1016.0 426.9,1013.7 425.9,1010.8 425.2,1007.5 424.5,1004.4 423.5,1001.9 421.7,1001.0 419.4,1000.5 417.1,1000.0 414.9,999.1 413.1,997.5 411.8,995.1 411.2,992.0 411.3,988.2 411.8,984.1 412.6,979.9 413.4,975.9 413.7,972.3 413.0,969.6 411.8,967.0 410.6,964.3 409.6,961.3 409.1,958.0 409.3,954.3 410.2,950.3 411.6,946.3 413.5,942.3 415.6,938.4 417.6,934.8 419.2,931.3 419.8,927.6 420.0,923.8 420.3,919.7 420.9,915.6 421.9,911.5 423.4,907.6 425.4,904.1 427.8,901.1 430.5,898.5 433.2,896.3 435.8,894.2 438.1,891.8 439.8,888.4 441.5,884.5 443.2,880.4 445.1,876.4 447.3,872.9 449.7,870.1 452.2,868.2 454.8,867.1 457.4,866.8 459.9,866.8 462.2,866.9 464.5,866.5 466.8,864.4 469.3,861.6 471.9,858.8 474.6,856.2 477.2,854.4 479.7,853.6 482.0,853.8 483.9,855.1 485.6,857.0 487.1,859.4 488.5,861.7 490.0,863.3 492.2,863.2 494.7,862.5 497.4,861.7 500.0,861.5 502.2,861.9 504.0,863.3 505.3,865.6 506.0,868.8 506.3,872.5 506.2,876.4 506.2,880.1 506.5,883.2 507.9,885.2 509.7,886.7 511.5,888.4 513.2,890.4 514.4,893.0 514.9,896.2 514.8,899.9 514.0,903.9 512.8,908.2 511.3,912.4 509.8,916.4 508.8,920.0 508.9,923.4 509.4,926.7 509.8,930.2 510.0,933.9 509.8,937.8 508.9,941.8 507.4,945.7 505.4,949.3 503.0,952.8 500.5,955.9 498.1,958.9" fill="#7e7e7e" stroke="#7e7e7e" stroke-width="1.5" stroke-linejoin="round"/>
<polygon points="497.9,962.8 496.7,966.4 495.7,970.5 494.7,974.7 493.4,978.9 491.7,982.9 489.7,986.4 487.3,989.2 484.7,991.3 482.0,992.9 479.3,994.0 476.7,995.1 474.3,996.5 472.2,999.4 470.0,1002.9 467.8,1006.5 465.4,1009.9 462.9,1012.7 460.4,1014.6 457.9,1015.4 455.5,1015.3 453.3,1014.5 451.2,1013.2 449.3,1012.0 447.3,1011.4 444.9,1012.5 442.3,1014.3 439.5,1016.2 436.8,1017.7 434.3,1018.4 432.0,1018.1 430.2,1016.8 428.8,1014.5 427.8,1011.5 427.0,1008.3 426.3,1005.1 425.4,1002.7 423.5,1001.7 421.2,1001.3 418.9,1000.8 416.7,999.9 414.9,998.3 413.7,995.9 413.1,992.8 413.1,989.0 413.6,984.9 414.4,980.7 415.2,976.6 415.6,973.1 414.8,970.3 413.6,967.8 412.4,965.1 411.4,962.1 411.0,958.7 411.1,955.0 412.0,951.1 413.4,947.0 415.3,943.0 417.4,939.2 419.4,935.6 421.0,932.0 421.6,928.4 421.9,924.5 422.2,920.5 422.7,916.3 423.7,912.3 425.2,908.4 427.3,904.9 429.7,901.9 432.3,899.3 435.0,897.0 437.6,894.9 439.9,892.6 441.7,889.2 443.3,885.2 445.0,881.1 446.9,877.2 449.1,873.7 451.5,870.9 454.0,868.9 456.6,867.9 459.2,867.5 461.7,867.6 464.0,867.7 466.3,867.2 468.7,865.1 471.2,862.4 473.7,859.5 476.4,857.0 479.0,855.2 481.5,854.3 483.8,854.6 485.8,855.8 487.5,857.8 488.9,860.1 490.3,862.4 491.8,864.0 494.0,863.9 496.6,863.2 499.2,862.5 501.8,862.2 504.1,862.7 505.9,864.0 507.1,866.4 507.9,869.5 508.1,873.2 508.1,877.1 508.0,880.8 508.4,884.0 509.7,885.9 511.5,887.5 513.4,889.1 515.0,891.2 516.2,893.8 516.8,896.9 516.6,900.6 515.8,904.7 514.6,908.9 513.1,913.1 511.6,917.1 510.6,920.8 510.7,924.1 511.2,927.5 511.7,931.0 511.9,934.7 511.6,938.6 510.7,942.5 509.2,946.4 507.2,950.1 504.8,953.5 502.3,956.7 500.0,959.7" fill="#5c5c5c" stroke="#5c5c5c" stroke-width="1.5" stroke-linejoin="round"/>
<ellipse cx="461.0" cy="938.0" rx="34.0" ry="64.0" fill="#a0a0a0" transform="rotate(21 461.0 938.0)" />
<ellipse cx="461.8" cy="938.4" rx="31.2" ry="60.5" fill="#545454" transform="rotate(21 461.8 938.4)" />
<ellipse cx="462.5" cy="938.8" rx="28.8" ry="57.0" fill="#7a7a7a" transform="rotate(21 462.5 938.8)" />
<path d="M440,935 C438,912 450,888 474,880 L470,900 C458,906 450,920 447,940Z" fill="#9a9a9a" />
<path d="M479.5,880 C484,880 488,888 490.5,899.5 C486,895 482,888 479.5,880Z" fill="#fff" />
<path d="M477,877 C486,876 493,890 492,902 L490.5,899.5 C488,888 484,880 479.5,880Z" fill="#3e3e3e" />
<path d="M436,990 C441,985 452,983.5 457.5,985 C452,991 443,995 436,994Z" fill="#fff" />
<path d="M430,985 C438,978 455,978 462,982 L457.5,985 C452,983.5 441,985 436,990Z" fill="#3a3a3a" />
<path d="M426.5,950 L438.5,956 L431,972 Q426,962 426.5,950Z" fill="#b6b6b6" />
<path d="M456,990 C470,985 484,972 492,958 L496,964 C486,984 470,997 452,1000Z" fill="#8e8e8e" />
<ellipse cx="466.5" cy="939.0" rx="22.5" ry="45.0" fill="#4c4c4c" transform="rotate(21 466.5 939.0)" />
<ellipse cx="466.5" cy="939.0" rx="20.5" ry="42.0" fill="#8c8c8c" transform="rotate(21 466.5 939.0)" />
<ellipse cx="466.5" cy="939.0" rx="17.5" ry="36.0" fill="#565656" transform="rotate(21 466.5 939.0)" />
<ellipse cx="466.5" cy="939.0" rx="14.0" ry="29.0" fill="#787878" transform="rotate(21 466.5 939.0)" />
<ellipse cx="466.5" cy="939.0" rx="10.5" ry="21.0" fill="#5e5e5e" transform="rotate(21 466.5 939.0)" />
<ellipse cx="466.5" cy="939.0" rx="7.0" ry="14.0" fill="#727272" transform="rotate(21 466.5 939.0)" />
<ellipse cx="466.5" cy="939.0" rx="4.0" ry="8.0" fill="#505050" transform="rotate(21 466.5 939.0)" />
<path d="M800.0,822.0 L798.0,842.0 L794.0,860.0 L785.0,912.0 L774.6,974.0 L768.4,1026.0 L772.0,1031.0 L799.0,1057.0 L802.0,1069.0 L793.0,1090.0 L692.0,1197.8 L681.0,1203.5 L669.0,1198.0 L664.8,1189.5 L681.0,1119.0 L702.0,1034.0 L719.0,978.0 L735.0,922.0 L748.0,877.0 L760.0,850.0 L780.0,830.0Z" fill="#606060" stroke="#606060" stroke-width="1.5" stroke-linejoin="round"/>
<path d="M764.0,896.0 C768.7,889.0 769.0,891.8 769.0,910.0 C769.0,928.2 767.5,946.9 764.0,974.0 C760.5,1001.1 759.1,1004.8 754.0,1026.0 C748.9,1047.2 748.5,1047.7 742.0,1065.0 C735.5,1082.3 733.9,1080.2 726.0,1100.0 C718.1,1119.8 715.9,1127.6 708.0,1150.0 C700.1,1172.4 697.8,1184.1 692.0,1196.0 C686.2,1207.9 686.7,1202.4 683.0,1201.0 C679.3,1199.6 673.4,1206.6 676.0,1190.0 C678.6,1173.4 687.0,1152.9 694.0,1130.0 C701.0,1107.1 699.5,1113.0 706.0,1092.0 C712.5,1071.0 715.0,1063.3 722.0,1040.0 C729.0,1016.7 729.7,1015.3 736.0,992.0 C742.3,968.7 742.5,962.4 749.0,940.0 C755.5,917.6 759.3,903.0 764.0,896.0Z" fill="#888"/>
<polygon points="724.0,1139.0 785.0,1085.0 795.0,1090.0 705.0,1180.0 700.0,1165.0" fill="#7a7a7a" />
<path d="M748.0,877.0 C753.8,867.4 759.5,867.0 760.0,881.0 C760.5,895.0 756.3,912.7 750.0,937.0 C743.7,961.3 741.3,957.0 733.0,985.0 C724.7,1013.0 721.7,1026.2 714.5,1057.0 C707.3,1087.8 707.7,1090.6 702.0,1117.0 C696.3,1143.4 694.4,1150.4 690.0,1170.0 C685.6,1189.6 687.2,1194.2 683.0,1201.0 C678.8,1207.8 676.2,1201.8 672.0,1199.0 C667.8,1196.2 662.9,1207.7 665.0,1189.0 C667.1,1170.3 672.4,1155.2 681.0,1119.0 C689.6,1082.8 693.1,1066.9 702.0,1034.0 C710.9,1001.1 711.3,1004.1 719.0,978.0 C726.7,951.9 728.2,945.6 735.0,922.0 C741.8,898.4 742.2,886.6 748.0,877.0Z" fill="url(#arml)"/>
<path d="M752.0,936.0 C753.2,936.5 749.9,946.2 746.0,960.0 C742.1,973.8 741.6,975.2 735.5,995.0 C729.4,1014.8 726.5,1022.8 720.0,1045.0 C713.5,1067.2 708.7,1088.8 707.5,1090.0 C706.3,1091.2 710.5,1071.0 715.0,1050.0 C719.5,1029.0 720.9,1021.5 727.0,1000.0 C733.1,978.5 735.2,972.9 741.0,958.0 C746.8,943.1 750.8,935.5 752.0,936.0Z" fill="#fff"/>
<path d="M762,1073.6 L781,1075 Q786,1078 785,1084 L724,1138Z" fill="#fff" />
<ellipse cx="758.0" cy="1053.0" rx="11.0" ry="17.0" fill="#929292" transform="rotate(15 758.0 1053.0)" />
<ellipse cx="760.0" cy="1054.0" rx="7.0" ry="11.0" fill="#7a7a7a" transform="rotate(15 760.0 1054.0)" />
<path d="M776.8,702.5 C786.5,701.2 785.3,700.6 794.0,704.8 C802.7,709.0 801.8,708.6 807.6,717.3 C813.4,726.0 812.8,725.3 814.4,735.6 C816.0,745.9 814.8,742.6 813.3,753.8 C811.8,765.0 811.3,764.0 809.0,775.0 C806.7,786.0 808.7,781.2 805.3,792.5 C801.9,803.8 802.8,802.1 797.0,815.0 C791.2,827.9 789.9,826.7 784.8,838.0 C779.7,849.3 782.9,846.6 779.0,855.0 C775.1,863.4 775.5,862.2 771.0,867.7 C766.5,873.2 768.1,873.2 763.0,874.5 C757.9,875.8 758.0,874.8 752.9,872.2 C747.8,869.6 747.6,869.6 745.0,865.4 C742.4,861.2 748.3,861.3 743.8,857.4 C739.3,853.5 736.1,856.9 729.0,851.7 C721.9,846.5 722.6,847.9 718.7,839.2 C714.8,830.5 716.9,829.4 715.3,821.0 C713.7,812.6 716.5,812.1 713.0,809.6 C709.5,807.1 708.2,812.0 703.0,812.0 C697.8,812.0 694.9,818.4 694.8,809.6 C694.7,800.8 696.3,796.8 702.8,781.0 C709.3,765.2 707.3,769.6 717.6,753.8 C727.9,738.0 727.3,737.9 739.2,725.3 C751.1,712.7 749.0,715.9 759.7,709.4 C770.4,702.9 767.1,703.8 776.8,702.5Z" fill="url(#disc)" stroke="#4a4a4a" stroke-width="1"/>
<path d="M694.8,809.6 C697.1,801.5 696.3,796.8 702.8,781.0 C709.3,765.2 707.3,769.6 717.6,753.8 C727.9,738.0 727.3,737.9 739.2,725.3 C751.1,712.7 749.0,715.9 759.7,709.4 C770.4,702.9 772.0,704.5 776.8,702.5 L784.0,705.5 C780.3,708.5 781.1,707.5 771.0,716.0 C760.9,724.5 760.5,723.0 748.3,735.6 C736.1,748.2 737.5,746.1 727.8,760.6 C718.1,775.1 720.0,773.9 714.2,786.8 C708.4,799.7 710.2,798.9 707.3,806.0 C704.4,813.1 704.9,810.3 704.0,812.0Z" fill="url(#flg)" />
<ellipse cx="699.5" cy="811.5" rx="5.0" ry="3.0" fill="#9a9a9a" transform="rotate(25 699.5 811.5)" />
<path d="M717.5,812.0 C718.2,805.8 716.5,803.0 720.0,790.0 C723.5,777.0 722.9,777.9 730.0,766.0 C737.1,754.1 735.9,756.8 745.0,748.0 C754.1,739.2 754.4,740.1 762.0,735.0 C769.6,729.9 769.2,731.4 772.0,730.0 L772.0,733.0 C769.7,735.3 770.2,734.8 764.0,741.0 C757.8,747.2 757.9,745.6 750.0,755.0 C742.1,764.4 742.5,762.1 736.0,774.0 C729.5,785.9 730.1,785.1 727.0,797.0 C723.9,808.9 725.6,810.6 725.0,816.0Z" fill="#8c8c8c" />
<path d="M727,822 C726,800 740,765 760,742 C775,728 790,726 798,740 C806,760 803,785 795,805 C785,830 770,848 752,850 C738,848 728,838 727,822Z" fill="#666"/>
<path d="M794,735.6 C803,748 806,770 798.5,792.5" fill="none" stroke="#4a4a4a" stroke-width="2.5"/>
<ellipse cx="771.0" cy="772.0" rx="5.0" ry="2.0" fill="#444" transform="rotate(10 771.0 772.0)" />
<ellipse cx="745.0" cy="829.0" rx="5.0" ry="2.5" fill="#444" transform="rotate(40 745.0 829.0)" />
<ellipse cx="751.0" cy="863.0" rx="5.0" ry="8.0" fill="#8e8e8e" transform="rotate(15 751.0 863.0)" />
<ellipse cx="765.4" cy="852.0" rx="6.5" ry="7.0" fill="#8a8a8a" transform="rotate(15 765.4 852.0)" />
<path d="M786,836 C782,850 774,866 762,876" fill="none" stroke="#3c3c3c" stroke-width="2"/>
<ellipse cx="750.6" cy="802.0" rx="10.5" ry="25.5" fill="#9a9a9a" transform="rotate(17 750.6 802.0)" />
<ellipse cx="753.0" cy="802.5" rx="8.0" ry="22.0" fill="#7a7a7a" transform="rotate(17 753.0 802.5)" />
<g transform="translate(762.0 803.0) rotate(23.5)">
<path d="M0.0,-18.0 L58.0,-17.0 A8.5,17.0 0 0 1 58.0,17.0 L0.0,18.0 A9.0,18.0 0 0 1 0.0,-18.0Z" fill="url(#mg7)"/>
<ellipse cx="58.0" cy="0" rx="8.5" ry="17.0" fill="#565656"/>
<path d="M56.0,-12.5 L70.0,-12.5 A6.2,12.5 0 0 1 70.0,12.5 L56.0,12.5 A6.2,12.5 0 0 1 56.0,-12.5Z" fill="#8a8a8a"/>
<path d="M68.0,-19.0 L80.0,-19.0 A9.5,19.0 0 0 1 80.0,19.0 L68.0,19.0 A9.5,19.0 0 0 1 68.0,-19.0Z" fill="url(#mg7)"/>
<ellipse cx="80.0" cy="0" rx="9.5" ry="19.0" fill="#6c6c6c"/>
</g>
<g transform="translate(762 803) rotate(23.5)"><ellipse cx="81" cy="0" rx="4.5" ry="7" fill="#b4b4b4"/><rect x="42" y="-10" width="9" height="9" fill="#7a7a7a"/></g>
<g transform="translate(845.0 889.5) rotate(23)">
<path d="M0.0,-8.5 L8.0,-8.5 A3.4,8.5 0 0 1 8.0,8.5 L0.0,8.5 A3.4,8.5 0 0 1 0.0,-8.5Z" fill="url(#mg1)"/>
<path d="M7.0,-14.5 L15.0,-14.5 A5.8,14.5 0 0 1 15.0,14.5 L7.0,14.5 A5.8,14.5 0 0 1 7.0,-14.5Z" fill="url(#mg1)"/>
<path d="M14.0,-11.5 L37.0,-11.5 A4.6,11.5 0 0 1 37.0,11.5 L14.0,11.5 A4.6,11.5 0 0 1 14.0,-11.5Z" fill="url(#mg1)"/>
<ellipse cx="37.0" cy="0" rx="4.6" ry="11.5" fill="#747474"/>
<ellipse cx="0.0" cy="0" rx="3.4" ry="8.5" fill="#8a8a8a"/>
</g>
<path d="M812.3,921 L824.6,921 L825.5,974 Q826.5,988 830.8,996 Q830,1003 818,1003.8 Q806,1003 805.4,996 Q809.5,988 810.7,974Z" fill="url(#pin)" />
<ellipse cx="818.0" cy="999.5" rx="12.3" ry="4.0" fill="#7a7a7a" />
<g transform="translate(852.0 1095.0) rotate(23)">
<path d="M0.0,-8.5 L22.0,-8.5 A3.6,8.5 0 0 1 22.0,8.5 L0.0,8.5 A3.6,8.5 0 0 1 0.0,-8.5Z" fill="url(#mg1)"/>
<path d="M21.0,-7.5 L38.0,-7.5 A3.1,7.5 0 0 1 38.0,7.5 L21.0,7.5 A3.1,7.5 0 0 1 21.0,-7.5Z" fill="url(#mg2)"/>
<path d="M37.0,-8.0 L50.0,-17.0 A7.1,17.0 0 0 1 50.0,17.0 L37.0,8.0 A3.4,8.0 0 0 1 37.0,-8.0Z" fill="url(#mg1)"/>
<ellipse cx="50.0" cy="0" rx="7.1" ry="17.0" fill="#6c6c6c"/>
<ellipse cx="0.0" cy="0" rx="3.6" ry="8.5" fill="#8a8a8a"/>
</g>
<g transform="translate(852 1095) rotate(23)"><ellipse cx="50" cy="0" rx="4" ry="8" fill="#9a9a9a"/></g>
<path d="M1081.0,938.2 A33.0,49.5 20 1 1 1143.0,960.8 A33.0,49.5 20 1 1 1081.0,938.2Z M1099.2,947.6 A16.3,42.0 20 1 0 1129.8,958.8 A16.3,42.0 20 1 0 1099.2,947.6Z" fill="url(#rg9)" fill-rule="evenodd"/>
<path d="M1118,905 C1132,908 1143,925 1146,945 C1140,930 1132,918 1120,913Z" fill="#3e3e3e"/>
<path d="M1090,985 C1098,995 1110,998 1120,994 C1112,1000 1098,1000 1088,992Z" fill="#444"/>
<path d="M1069,987 Q1068,980 1076,980.5 L1091,984 L1090,994 L1080,998 Q1070,997 1069,987Z" fill="#8a8a8a" />
<path d="M1069,987 Q1070,996 1080,998 L1090,994 L1089,990 L1079,993 Q1073,992 1069,987Z" fill="#5e5e5e" />
<g transform="translate(1245 1003) rotate(23)">
<path d="M-31,-43 L30,-43 A24,43 0 0 1 30,43 L-31,43 A24,43 0 0 1 -31,-43Z" fill="url(#mg8)"/>
<path d="M-31.0,-43 A24,43 0 0 0 -31.0,43" fill="none" stroke="#4e4e4e" stroke-width="1.5" opacity="0.75"/>
<path d="M-28.4,-43 A24,43 0 0 0 -28.4,43" fill="none" stroke="#b0b0b0" stroke-width="1.3" opacity="0.55"/>
<path d="M-25.7,-43 A24,43 0 0 0 -25.7,43" fill="none" stroke="#4e4e4e" stroke-width="1.5" opacity="0.75"/>
<path d="M-23.1,-43 A24,43 0 0 0 -23.1,43" fill="none" stroke="#b0b0b0" stroke-width="1.3" opacity="0.55"/>
<path d="M-20.4,-43 A24,43 0 0 0 -20.4,43" fill="none" stroke="#4e4e4e" stroke-width="1.5" opacity="0.75"/>
<path d="M-17.8,-43 A24,43 0 0 0 -17.8,43" fill="none" stroke="#b0b0b0" stroke-width="1.3" opacity="0.55"/>
<path d="M-15.1,-43 A24,43 0 0 0 -15.1,43" fill="none" stroke="#4e4e4e" stroke-width="1.5" opacity="0.75"/>
<path d="M-12.5,-43 A24,43 0 0 0 -12.5,43" fill="none" stroke="#b0b0b0" stroke-width="1.3" opacity="0.55"/>
<path d="M-9.8,-43 A24,43 0 0 0 -9.8,43" fill="none" stroke="#4e4e4e" stroke-width="1.5" opacity="0.75"/>
<path d="M-7.2,-43 A24,43 0 0 0 -7.2,43" fill="none" stroke="#b0b0b0" stroke-width="1.3" opacity="0.55"/>
<path d="M-4.5,-43 A24,43 0 0 0 -4.5,43" fill="none" stroke="#4e4e4e" stroke-width="1.5" opacity="0.75"/>
<path d="M-1.9,-43 A24,43 0 0 0 -1.9,43" fill="none" stroke="#b0b0b0" stroke-width="1.3" opacity="0.55"/>
<path d="M0.8,-43 A24,43 0 0 0 0.8,43" fill="none" stroke="#4e4e4e" stroke-width="1.5" opacity="0.75"/>
<path d="M3.4,-43 A24,43 0 0 0 3.4,43" fill="none" stroke="#b0b0b0" stroke-width="1.3" opacity="0.55"/>
<path d="M6.1,-43 A24,43 0 0 0 6.1,43" fill="none" stroke="#4e4e4e" stroke-width="1.5" opacity="0.75"/>
<path d="M8.7,-43 A24,43 0 0 0 8.7,43" fill="none" stroke="#b0b0b0" stroke-width="1.3" opacity="0.55"/>
<path d="M11.4,-43 A24,43 0 0 0 11.4,43" fill="none" stroke="#4e4e4e" stroke-width="1.5" opacity="0.75"/>
<path d="M14.0,-43 A24,43 0 0 0 14.0,43" fill="none" stroke="#b0b0b0" stroke-width="1.3" opacity="0.55"/>
<path d="M16.7,-43 A24,43 0 0 0 16.7,43" fill="none" stroke="#4e4e4e" stroke-width="1.5" opacity="0.75"/>
<path d="M19.3,-43 A24,43 0 0 0 19.3,43" fill="none" stroke="#b0b0b0" stroke-width="1.3" opacity="0.55"/>
<path d="M22.0,-43 A24,43 0 0 0 22.0,43" fill="none" stroke="#4e4e4e" stroke-width="1.5" opacity="0.75"/>
<path d="M24.6,-43 A24,43 0 0 0 24.6,43" fill="none" stroke="#b0b0b0" stroke-width="1.3" opacity="0.55"/>
<path d="M27.3,-43 A24,43 0 0 0 27.3,43" fill="none" stroke="#4e4e4e" stroke-width="1.5" opacity="0.75"/>
<path d="M29.9,-43 A24,43 0 0 0 29.9,43" fill="none" stroke="#b0b0b0" stroke-width="1.3" opacity="0.55"/>
<ellipse cx="30" cy="0" rx="24" ry="43" fill="#747474"/>
<ellipse cx="28.6" cy="0" rx="21.6" ry="38.7" fill="none" stroke="#a4a4a4" stroke-width="1.8"/>
<ellipse cx="26.6" cy="0" rx="18.2" ry="32.7" fill="none" stroke="#555" stroke-width="1.8"/>
<ellipse cx="24.7" cy="0" rx="14.9" ry="26.7" fill="none" stroke="#9a9a9a" stroke-width="1.8"/>
<ellipse cx="23.0" cy="0" rx="12.0" ry="21.5" fill="none" stroke="#555" stroke-width="1.8"/>
<ellipse cx="22" cy="0" rx="9" ry="18" fill="#6a6a6a"/>
<path d="M30,-43 A24,43 0 0 1 52,-16 A30,40 0 0 0 30,-36Z" fill="#3a3a3a"/>
</g>
<polygon points="1177.5,1014.0 1184.0,1011.0 1192.0,1020.0 1189.0,1026.5" fill="#9a9a9a" />
<polygon points="1296.0,1013.0 1302.0,1014.5 1302.5,1021.0 1297.0,1021.5" fill="#6e6e6e" />
<path d="M1465.8,850 L1492.7,834 L1511.5,822 L1524,810 L1522,836 L1508.8,858 L1499.4,887 L1495.4,899 L1479,904.5 L1471,908 L1459,900Z" fill="#5e5e5e" />
<path d="M1443.6,843.6 L1467,819.4 L1470,806 L1486,796 L1530,812 L1511.5,826 L1492.7,836 L1465.8,850.4Z" fill="#646464" />
<path d="M1443.6,843.6 Q1455,845 1465.8,850.4 L1468.5,888 Q1466,897 1459,900.2 L1441.5,897 Q1436,880 1437.5,872 Z" fill="url(#p1a)" />
<path d="M1441.5,897 L1459,900.2 L1471,908 L1495,899 L1496,893 L1471,902 L1459,895 L1440,890Z" fill="#4e4e4e" />
<ellipse cx="1483.3" cy="878.6" rx="6.0" ry="12.0" fill="#8e8e8e" transform="rotate(15 1483.3 878.6)" />
<ellipse cx="1484.0" cy="879.0" rx="3.5" ry="8.0" fill="#b0b0b0" transform="rotate(15 1484.0 879.0)" />
<ellipse cx="1499.0" cy="893.0" rx="5.0" ry="4.0" fill="#6a6a6a" />
<path d="M1468.5,812 Q1468,805 1476,803 L1483,806 L1481,816 L1472,818Z" fill="#808080" />
<path d="M1510,769 L1526.3,757 L1554.6,765.5 L1561,772 L1555,778.5 L1548,781 L1520,776Z" fill="#484848" />
<path d="M1484.6,786 Q1484,772 1498,766.5 L1512,766.5 L1550,778 Q1530,790 1528,826 L1513,826 L1487,800Z" fill="url(#p1c)" />
<path d="M1498,766.5 L1512,766.5 L1550,778 L1545,783 L1512,772Z" fill="#6a6a6a" />
<ellipse cx="1538.4" cy="802.5" rx="15.5" ry="25.0" fill="#585858" transform="rotate(14 1538.4 802.5)" />
<ellipse cx="1539.5" cy="803.0" rx="12.5" ry="21.0" fill="#7a7a7a" transform="rotate(14 1539.5 803.0)" />
<ellipse cx="1540.0" cy="803.5" rx="9.0" ry="15.0" fill="#5a5a5a" transform="rotate(14 1540.0 803.5)" />
<ellipse cx="1540.5" cy="803.0" rx="5.5" ry="8.5" fill="#9c9c9c" transform="rotate(14 1540.5 803.0)" />
<path d="M1510,830 L1530,822 L1542,826 L1520,846Z" fill="#646464" />
<path d="M1512,853 L1520,832.9 L1541,827 L1543,833 Z" fill="#6e6e6e" />
<ellipse cx="1513.0" cy="838.0" rx="4.0" ry="5.0" fill="#a0a0a0" />
<g transform="translate(1581.5 925.7) rotate(21.5)">
<path d="M0.0,-12.5 L48.0,-12.5 A5.6,12.5 0 0 1 48.0,12.5 L0.0,12.5 A5.6,12.5 0 0 1 0.0,-12.5Z" fill="url(#mg9)"/>
<path d="M46.0,-15.0 L56.0,-22.0 A9.9,22.0 0 0 1 56.0,22.0 L46.0,15.0 A6.8,15.0 0 0 1 46.0,-15.0Z" fill="url(#mg1)"/>
<path d="M55.0,-22.0 L62.0,-22.0 A9.9,22.0 0 0 1 62.0,22.0 L55.0,22.0 A9.9,22.0 0 0 1 55.0,-22.0Z" fill="url(#mg1)"/>
<path d="M62.0,-17.0 L66.0,-17.0 A7.7,17.0 0 0 1 66.0,17.0 L62.0,17.0 A7.7,17.0 0 0 1 62.0,-17.0Z" fill="#4e4e4e"/>
<path d="M66.0,-24.5 L80.0,-24.5 A11.0,24.5 0 0 1 80.0,24.5 L66.0,24.5 A11.0,24.5 0 0 1 66.0,-24.5Z" fill="url(#mg1)"/>
<ellipse cx="80.0" cy="0" rx="11.0" ry="24.5" fill="#707070"/>
<ellipse cx="0.0" cy="0" rx="5.6" ry="12.5" fill="#7a7a7a"/>
</g>
<g transform="translate(1581.5 925.7) rotate(21.5)">
<path d="M5.0,-12.5 A5.6,12.5 0 0 1 5.0,12.5" fill="none" stroke="#5e5e5e" stroke-width="1.3"/>
<path d="M9.6,-12.5 A5.6,12.5 0 0 1 9.6,12.5" fill="none" stroke="#5e5e5e" stroke-width="1.3"/>
<path d="M14.2,-12.5 A5.6,12.5 0 0 1 14.2,12.5" fill="none" stroke="#5e5e5e" stroke-width="1.3"/>
<path d="M18.8,-12.5 A5.6,12.5 0 0 1 18.8,12.5" fill="none" stroke="#5e5e5e" stroke-width="1.3"/>
<path d="M23.4,-12.5 A5.6,12.5 0 0 1 23.4,12.5" fill="none" stroke="#5e5e5e" stroke-width="1.3"/>
<path d="M28.0,-12.5 A5.6,12.5 0 0 1 28.0,12.5" fill="none" stroke="#5e5e5e" stroke-width="1.3"/>
<path d="M32.6,-12.5 A5.6,12.5 0 0 1 32.6,12.5" fill="none" stroke="#5e5e5e" stroke-width="1.3"/>
<path d="M37.2,-12.5 A5.6,12.5 0 0 1 37.2,12.5" fill="none" stroke="#5e5e5e" stroke-width="1.3"/>
<path d="M41.8,-12.5 A5.6,12.5 0 0 1 41.8,12.5" fill="none" stroke="#5e5e5e" stroke-width="1.3"/>
<ellipse cx="80" cy="0" rx="5" ry="9" fill="#9a9a9a"/><ellipse cx="80.5" cy="0" rx="8" ry="15" fill="none" stroke="#5a5a5a" stroke-width="1.5"/></g>
<polygon points="1559.6,1096.9 1591.1,1108.7 1634.4,1129.3 1654.1,1156.9 1658.0,1166.7 1654.1,1182.4 1642.3,1208.0 1624.5,1233.6 1606.8,1247.4 1587.2,1257.2 1583.2,1267.0 1575.4,1294.6 1563.6,1306.4 1551.8,1316.2 1536.0,1324.1 1502.6,1341.8 1496.7,1328.0 1488.8,1322.1 1473.1,1306.4 1449.5,1282.8 1445.6,1276.9 1504.6,1239.5 1520.3,1200.1 1519.3,1149.0 1521.3,1139.2 1528.2,1127.4 1536.0,1115.6 1543.9,1103.8" fill="#555" stroke="#555" stroke-width="1" stroke-linejoin="round"/>
<path d="M1519.9,1149.0 C1517.3,1147.5 1519.9,1142.8 1521.3,1139.2 C1522.7,1135.6 1525.7,1131.1 1528.2,1127.4 C1530.6,1123.6 1534.6,1113.1 1536.0,1116.6 C1537.5,1120.0 1539.5,1142.6 1536.8,1148.0 C1534.1,1153.4 1522.5,1150.5 1519.9,1149.0Z" fill="#a6a6a6" />
<polygon points="1559.6,1096.9 1591.1,1108.7 1634.4,1129.3 1654.1,1156.9 1658.0,1166.7 1651.1,1160.8 1632.4,1137.2 1589.1,1119.5 1575.4,1113.6 1561.6,1110.7 1545.9,1119.5 1538.0,1130.3 1536.0,1115.6 1543.9,1103.8" fill="url(#hzb)" />
<polygon points="1538.0,1130.3 1545.9,1119.5 1561.6,1110.7 1575.4,1113.6 1581.3,1119.5 1575.4,1122.5 1571.4,1116.6 1553.7,1134.3 1538.4,1155.9" fill="#3a3a3a" />
<path d="M1571.4,1116.6 C1571.4,1114.8 1573.7,1111.5 1575.4,1112.0 C1577.1,1112.5 1581.0,1117.4 1581.7,1119.5 C1582.3,1121.6 1580.4,1123.9 1579.3,1124.4 C1578.3,1124.9 1576.7,1123.8 1575.4,1122.5 C1574.1,1121.1 1571.4,1118.3 1571.4,1116.6Z" fill="#6a6a6a" />
<polygon points="1575.4,1113.6 1589.1,1119.5 1632.4,1137.2 1646.2,1149.0 1630.4,1133.7 1606.8,1136.4 1583.2,1140.4 1579.3,1124.4" fill="#303030" />
<path d="M1574.4,1146.1 C1574.2,1142.7 1579.5,1140.8 1583.2,1139.6 C1587.0,1138.4 1601.3,1136.4 1606.8,1135.6 C1612.4,1134.9 1626.1,1131.5 1630.4,1132.9 C1634.8,1134.2 1641.7,1143.7 1644.2,1147.0 C1646.7,1150.3 1653.2,1158.6 1652.1,1161.2 C1650.9,1163.8 1638.3,1167.3 1634.4,1169.1 C1630.5,1170.9 1623.2,1174.9 1618.6,1176.5 C1614.1,1178.2 1598.9,1183.8 1595.0,1182.8 C1591.1,1181.9 1587.6,1173.0 1585.2,1168.7 C1582.8,1164.4 1574.6,1149.5 1574.4,1146.1Z" fill="url(#hze)" />
<polygon points="1606.5,1171.0 1614.7,1168.7 1619.0,1182.4 1611.2,1184.8" fill="#9a9a9a" />
<polygon points="1609.8,1170.6 1611.6,1170.3 1615.5,1183.2 1613.9,1183.8" fill="#5a5a5a" />
<polygon points="1595.0,1182.8 1618.6,1176.5 1652.1,1161.2 1658.0,1166.7 1654.1,1182.4 1642.3,1208.0 1624.5,1233.6 1606.8,1247.4 1587.2,1257.2 1593.1,1227.7 1595.0,1212.0" fill="url(#hzf)" />
<polygon points="1658.0,1166.7 1654.1,1182.4 1642.3,1208.0 1624.5,1233.6 1606.8,1247.4 1587.2,1257.2 1588.2,1253.3 1604.9,1243.4 1621.6,1230.0 1638.7,1206.1 1650.5,1181.5 1654.1,1165.7" fill="#2c2c2c" />
<polygon points="1595.0,1182.8 1618.6,1176.5 1652.1,1161.2 1652.5,1163.2 1619.0,1178.9 1595.8,1185.2" fill="#484848" />
<path d="M1537.6,1155.9 C1539.6,1146.1 1549.8,1138.3 1553.7,1133.7 C1557.7,1129.0 1568.9,1117.3 1571.4,1116.0 C1574.0,1114.7 1574.4,1119.1 1575.8,1122.5 C1577.1,1125.9 1581.5,1138.5 1583.2,1145.1 C1585.0,1151.6 1589.7,1170.7 1591.1,1178.5 C1592.5,1186.3 1595.5,1204.4 1595.0,1212.0 C1594.6,1219.5 1589.4,1237.0 1587.6,1243.4 C1585.7,1249.8 1581.2,1261.1 1579.3,1267.0 C1577.4,1273.0 1573.5,1289.7 1571.4,1294.6 C1569.4,1299.4 1564.6,1306.2 1561.6,1308.3 C1558.6,1310.5 1548.7,1315.8 1545.9,1313.2 C1543.0,1310.7 1538.2,1297.8 1537.2,1286.7 C1536.2,1275.6 1537.0,1233.1 1537.0,1217.9 C1537.1,1202.6 1535.7,1165.7 1537.6,1155.9Z" fill="url(#hzc)" />
<polygon points="1537.6,1205.1 1594.6,1182.4 1595.0,1185.6 1537.6,1209.0" fill="#4c4c4c" />
<polygon points="1595.0,1212.0 1587.6,1243.4 1579.3,1267.0 1571.4,1294.6 1561.6,1308.3 1564.6,1298.5 1574.4,1267.0 1583.2,1241.5 1591.1,1212.0" fill="#555" />
<polygon points="1445.6,1276.9 1504.6,1239.5 1516.4,1251.3 1526.2,1286.7 1538.0,1298.5 1537.2,1324.1 1502.6,1341.8 1496.7,1328.0 1488.8,1322.1 1473.1,1306.4 1449.5,1282.8" fill="#4a4a4a" />
<polygon points="1504.6,1239.5 1516.4,1227.7 1526.2,1239.5 1534.1,1267.0 1538.0,1298.5 1526.2,1286.7 1516.4,1251.3" fill="#3e3e3e" />
<path d="M1510.5,1253.3 C1513.7,1250.1 1529.3,1251.3 1533.1,1255.2 C1536.9,1259.2 1535.2,1273.1 1533.1,1276.9 C1531.0,1280.6 1523.6,1278.3 1520.3,1277.8 C1517.0,1277.4 1515.1,1278.0 1513.4,1273.9 C1511.8,1269.8 1507.2,1256.4 1510.5,1253.3Z" fill="#9c9c9c" />
<polygon points="1508.9,1263.1 1533.1,1268.0 1533.1,1271.9 1510.5,1267.0" fill="#6a6a6a" />
<polygon points="1449.5,1283.7 1463.3,1288.7 1484.9,1316.2 1488.8,1322.1 1473.1,1306.4" fill="#8e8e8e" />
<path d="M1496.7,1328.4 C1498.5,1325.7 1511.1,1324.4 1516.4,1322.1 C1521.6,1319.8 1530.0,1313.1 1536.0,1311.3 C1542.1,1309.4 1559.8,1307.6 1562.0,1308.3 C1564.1,1309.0 1555.6,1314.4 1552.2,1316.6 C1548.7,1318.7 1542.6,1321.1 1536.0,1324.5 C1529.4,1327.9 1507.8,1341.6 1502.6,1342.2 C1497.4,1342.7 1494.9,1331.1 1496.7,1328.4Z" fill="url(#hzm)" />
<polygon points="1496.7,1227.7 1518.3,1196.2 1530.1,1168.7 1537.2,1168.7 1537.2,1247.4 1504.6,1245.4" fill="#8a8a8a" />
<polygon points="1504.6,1239.5 1520.3,1208.0 1537.2,1200.1 1537.2,1251.3 1516.4,1251.3" fill="#4e4e4e" />
<path d="M1529.2,1148.4 C1526.4,1146.7 1511.2,1153.5 1506.5,1155.3 C1501.9,1157.1 1489.8,1163.6 1482.9,1166.1 C1476.0,1168.7 1445.0,1178.2 1437.7,1180.9 C1430.4,1183.5 1415.7,1190.1 1410.1,1192.7 C1404.6,1195.2 1391.1,1201.5 1382.6,1206.4 C1374.2,1211.4 1332.3,1237.5 1325.6,1241.8 C1318.9,1246.2 1317.2,1247.7 1315.7,1249.7 C1314.3,1251.7 1311.4,1258.8 1310.8,1261.5 C1310.2,1264.3 1309.8,1274.5 1309.8,1277.3 C1309.8,1280.0 1309.4,1287.8 1310.8,1289.1 C1312.2,1290.3 1322.2,1291.0 1323.6,1290.0 C1325.0,1289.1 1324.0,1280.6 1324.6,1279.2 C1325.2,1277.8 1328.4,1276.1 1329.5,1276.1 C1330.6,1276.1 1334.7,1278.0 1335.4,1279.2 C1336.1,1280.4 1335.4,1287.3 1336.4,1288.1 C1337.4,1288.9 1344.3,1289.2 1345.6,1287.1 C1347.0,1285.0 1346.3,1270.8 1349.6,1267.4 C1352.9,1264.0 1369.9,1255.3 1378.7,1253.3 C1387.5,1251.3 1425.9,1249.9 1437.7,1247.4 C1449.5,1244.8 1488.6,1232.4 1496.7,1227.7 C1504.8,1223.0 1514.6,1205.7 1518.3,1200.1 C1522.1,1194.6 1533.0,1177.8 1534.1,1172.6 C1535.1,1167.4 1531.9,1150.1 1529.2,1148.4Z" fill="url(#lk1)" />
<path d="M1529.2,1148.4 C1522.7,1150.4 1519.6,1150.3 1506.5,1155.3 C1493.4,1160.3 1502.4,1158.9 1482.9,1166.1 C1463.4,1173.4 1458.3,1173.3 1437.7,1180.9 C1417.1,1188.4 1425.8,1185.4 1410.1,1192.7 C1394.5,1199.9 1406.6,1192.5 1382.6,1206.4 C1358.6,1220.4 1344.5,1229.6 1325.6,1241.8 C1306.6,1254.1 1319.9,1244.1 1315.7,1249.7 C1311.6,1255.3 1312.4,1254.9 1310.8,1261.5 C1309.3,1268.1 1310.4,1269.7 1310.2,1272.9 L1314.6,1272.9 C1314.8,1270.1 1313.9,1268.6 1315.3,1263.1 C1316.8,1257.6 1315.7,1258.7 1319.7,1253.7 C1323.7,1248.6 1311.1,1257.7 1329.5,1245.4 C1347.9,1233.1 1361.4,1224.1 1384.6,1210.4 C1407.8,1196.7 1396.1,1204.1 1411.3,1197.0 C1426.6,1189.9 1418.1,1192.7 1438.5,1185.2 C1458.9,1177.7 1464.0,1177.8 1483.3,1170.6 C1502.6,1163.5 1493.5,1164.8 1506.5,1160.0 C1519.5,1155.3 1522.7,1155.7 1529.2,1153.9Z" fill="#2e2e2e" />
<polygon points="1311.8,1259.2 1349.2,1258.2 1359.0,1253.3 1323.6,1254.2" fill="#555" />
<polygon points="1529.2,1164.7 1533.1,1167.7 1511.4,1204.1 1504.6,1203.1" fill="#5e5e5e" />
<polygon points="1437.7,1247.4 1467.2,1267.0 1451.5,1283.7 1418.0,1278.8" fill="#7e7e7e" />
<path d="M1349.6,1267.4 C1344.8,1270.0 1346.9,1275.7 1346.8,1278.8 C1346.8,1281.9 1347.5,1287.7 1349.2,1290.6 C1350.8,1293.5 1355.6,1298.8 1359.0,1300.5 C1362.4,1302.2 1367.9,1304.2 1374.7,1303.4 C1381.6,1302.6 1400.7,1297.2 1410.1,1294.6 C1419.6,1291.9 1440.0,1286.1 1445.6,1283.7 C1451.1,1281.4 1452.0,1279.6 1451.5,1276.9 C1450.9,1274.1 1450.8,1265.5 1441.6,1263.1 C1432.4,1260.7 1394.9,1258.6 1382.6,1259.2 C1370.3,1259.7 1354.3,1264.8 1349.6,1267.4Z" fill="#484848" />
<path d="M1359.0,1267.0 C1358.7,1262.8 1361.8,1257.7 1364.9,1255.2 C1368.1,1252.7 1376.6,1249.7 1382.6,1248.3 C1388.6,1247.0 1401.8,1244.2 1410.1,1245.4 C1418.5,1246.6 1439.5,1254.3 1445.6,1257.2 C1451.6,1260.1 1455.4,1264.5 1455.4,1267.0 C1455.4,1269.5 1450.5,1274.3 1445.6,1275.9 C1440.6,1277.5 1426.4,1276.9 1418.0,1278.8 C1409.6,1280.8 1389.4,1289.6 1382.6,1290.6 C1375.8,1291.7 1370.0,1289.8 1366.9,1286.7 C1363.7,1283.5 1359.3,1271.2 1359.0,1267.0Z" fill="url(#lk2)" />
<ellipse cx="1377.7" cy="1270.0" rx="13.0" ry="13.0" fill="#8c8c8c" />
<ellipse cx="1377.7" cy="1270.0" rx="10.0" ry="10.0" fill="#5c5c5c" />
<ellipse cx="1377.2" cy="1271.0" rx="6.5" ry="6.5" fill="#3a3a3a" />
<path d="M1369.7,1254.0 q8,-6 16,-1" fill="none" stroke="#555" stroke-width="2"/>
<path d="M1392.7,1262.0 q5,8 0,18" fill="none" stroke="#555" stroke-width="2"/>
<path d="M1407.8,1225.7 C1408.2,1220.5 1409.6,1205.8 1411.1,1200.1 C1412.6,1194.5 1416.5,1186.2 1419.0,1183.4 C1421.5,1180.7 1426.8,1179.4 1429.8,1179.5 C1432.9,1179.6 1440.0,1182.1 1442.0,1184.4 C1444.1,1186.8 1445.0,1193.0 1445.2,1197.2 C1445.3,1201.4 1444.2,1209.5 1443.2,1215.9 C1442.2,1222.3 1440.5,1241.2 1437.7,1245.4 C1434.9,1249.6 1425.9,1248.1 1422.0,1247.4 C1418.0,1246.6 1409.7,1242.4 1407.8,1239.5 C1405.9,1236.6 1407.3,1231.0 1407.8,1225.7Z" fill="url(#kn1)" />
<path d="M1416.1,1219.8 C1418.0,1214.9 1420.0,1207.4 1422.9,1205.1 C1425.8,1202.7 1434.8,1200.7 1437.7,1202.1 C1440.6,1203.6 1444.3,1210.1 1444.6,1215.9 C1444.9,1221.7 1442.5,1240.9 1440.0,1245.4 C1437.6,1249.9 1430.1,1250.2 1425.9,1249.7 C1421.7,1249.2 1409.9,1245.8 1408.6,1241.8 C1407.3,1237.9 1414.1,1224.7 1416.1,1219.8Z" fill="#565656" />
<polygon points="1425.9,1210.0 1440.0,1212.0 1437.7,1236.5 1425.9,1240.5" fill="#6e6e6e" />
<path d="M1444.6,1239.5 C1444.6,1233.5 1447.5,1217.7 1449.5,1212.0 C1451.5,1206.2 1456.2,1198.8 1459.3,1196.2 C1462.5,1193.6 1469.2,1192.2 1473.1,1192.3 C1477.0,1192.4 1485.2,1194.6 1488.8,1197.2 C1492.5,1199.8 1498.7,1207.4 1500.6,1212.0 C1502.6,1216.5 1504.1,1225.3 1503.6,1231.6 C1503.1,1237.9 1499.7,1254.0 1496.7,1259.2 C1493.7,1264.3 1485.2,1268.9 1481.0,1270.0 C1476.8,1271.0 1469.4,1268.7 1465.2,1267.0 C1461.0,1265.3 1452.2,1260.9 1449.5,1257.2 C1446.7,1253.5 1444.6,1245.5 1444.6,1239.5Z" fill="url(#kn2)" />
<ellipse cx="1487.8" cy="1236.5" rx="14.0" ry="30.0" fill="#5e5e5e" transform="rotate(14 1487.8 1236.5)" />
<ellipse cx="1488.8" cy="1237.5" rx="10.5" ry="25.0" fill="#8e8e8e" transform="rotate(14 1488.8 1237.5)" />
<ellipse cx="1457.4" cy="1196.2" rx="5.0" ry="3.5" fill="#fff" transform="rotate(-35 1457.4 1196.2)" />
<g transform="translate(1853.0 1035.0) rotate(125.5)">
<path d="M24.0,-9.5 L36.0,-9.0 A6.1,9.0 0 0 1 36.0,9.0 L24.0,9.5 A6.5,9.5 0 0 1 24.0,-9.5Z" fill="#b0b0b0"/>
<path d="M0.0,-21.0 L26.0,-19.0 A12.9,19.0 0 0 1 26.0,19.0 L0.0,21.0 A14.3,21.0 0 0 1 0.0,-21.0Z" fill="url(#mg10)"/>
</g>
<g transform="translate(1853 1035) rotate(125.5)"><ellipse cx="0" cy="0" rx="14.3" ry="21" fill="#8e8e8e"/><ellipse cx="0" cy="-9" rx="8" ry="5.5" fill="#3a3a3a"/><ellipse cx="0" cy="9" rx="8" ry="5.5" fill="#3a3a3a"/><ellipse cx="36" cy="0" rx="5" ry="9" fill="#c8c8c8"/></g>
<ellipse cx="1802.6" cy="1101.5" rx="15" ry="17.3" fill="none" stroke="#7c7c7c" stroke-width="3.4"/>
<ellipse cx="1823.0" cy="1095.0" rx="6.0" ry="8.0" fill="#5a5a5a" transform="rotate(25 1823.0 1095.0)" />
<ellipse cx="1820.0" cy="1101.0" rx="3.0" ry="3.0" fill="#777" />
<g transform="translate(1772 1146) rotate(125.5)">
<path d="M0,-22 L24,-22 A14,22 0 0 1 24,22 L0,22 A14,22 0 0 1 0,-22Z" fill="#cfcfcf"/>
<path d="M2.0,-22 A14,22 0 0 1 2.0,22" fill="none" stroke="#7a7a7a" stroke-width="2"/>
<path d="M6.4,-22 A14,22 0 0 1 6.4,22" fill="none" stroke="#7a7a7a" stroke-width="2"/>
<path d="M10.8,-22 A14,22 0 0 1 10.8,22" fill="none" stroke="#7a7a7a" stroke-width="2"/>
<path d="M15.2,-22 A14,22 0 0 1 15.2,22" fill="none" stroke="#7a7a7a" stroke-width="2"/>
<path d="M19.6,-22 A14,22 0 0 1 19.6,22" fill="none" stroke="#7a7a7a" stroke-width="2"/>
<path d="M24.0,-22 A14,22 0 0 1 24.0,22" fill="none" stroke="#7a7a7a" stroke-width="2"/>
<ellipse cx="0" cy="0" rx="14" ry="22" fill="#b0b0b0"/><ellipse cx="1" cy="0" rx="11" ry="17.5" fill="none" stroke="#6c6c6c" stroke-width="1.6"/><ellipse cx="2" cy="0" rx="8" ry="12.5" fill="#ececec"/><ellipse cx="3" cy="0" rx="5.5" ry="8" fill="none" stroke="#7a7a7a" stroke-width="1.4"/>
</g>
<g transform="translate(1722.0 1217.0) rotate(125.5)">
<path d="M0.0,-27.0 L22.0,-26.0 A15.6,26.0 0 0 1 22.0,26.0 L0.0,27.0 A16.2,27.0 0 0 1 0.0,-27.0Z" fill="url(#mg11)"/>
</g>
<g transform="translate(1722 1217) rotate(125.5)"><ellipse cx="0" cy="0" rx="16.2" ry="27" fill="#6a6a6a"/><ellipse cx="2" cy="0" rx="13" ry="22" fill="#f2f2f2"/><path d="M-6,-18 A13,22 0 0 1 8,-18 L6,-8 A8,12 0 0 0 -3,-8Z" fill="#8a8a8a"/><ellipse cx="6" cy="10" rx="4" ry="7" fill="none" stroke="#8a8a8a" stroke-width="1.5"/></g>
<g transform="translate(1675.0 1279.0) rotate(125.5)">
<path d="M3.0,-3.6 L26.0,-3.2 A1.6,3.2 0 0 1 26.0,3.2 L3.0,3.6 A1.8,3.6 0 0 1 3.0,-3.6Z" fill="#4e4e4e"/>
<path d="M-3.0,-8.5 L4.0,-8.5 A4.2,8.5 0 0 1 4.0,8.5 L-3.0,8.5 A4.2,8.5 0 0 1 -3.0,-8.5Z" fill="#6e6e6e"/>
</g>
<g transform="translate(1675 1279) rotate(125.5)"><ellipse cx="-3" cy="0" rx="4.2" ry="8.5" fill="#9a9a9a"/></g>
<g transform="translate(1410.5 1334.5) rotate(31)">
<path d="M0.0,-3.2 L34.0,-3.2 A1.6,3.2 0 0 1 34.0,3.2 L0.0,3.2 A1.6,3.2 0 0 1 0.0,-3.2Z" fill="#8e8e8e"/>
<ellipse cx="34.0" cy="0" rx="1.6" ry="3.2" fill="#666"/>
<ellipse cx="0.0" cy="0" rx="1.6" ry="3.2" fill="#6a6a6a"/>
</g>
<g transform="translate(1408.0 1367.0) rotate(113.5)">
<path d="M0.0,-5.5 L54.0,-5.5 A1.9,5.5 0 0 1 54.0,5.5 L0.0,5.5 A1.9,5.5 0 0 1 0.0,-5.5Z" fill="url(#mg12)"/>
<path d="M52.0,-12.0 L70.0,-12.0 A4.2,12.0 0 0 1 70.0,12.0 L52.0,12.0 A4.2,12.0 0 0 1 52.0,-12.0Z" fill="url(#mg1)"/>
<ellipse cx="70.0" cy="0" rx="4.2" ry="12.0" fill="#8a8a8a"/>
</g>
<ellipse cx="1321.0" cy="1504.5" rx="28.5" ry="6.3" fill="#8a8a8a" transform="rotate(3 1321.0 1504.5)" />
<ellipse cx="1321.0" cy="1503.6" rx="26.0" ry="3.8" fill="#c8c8c8" transform="rotate(3 1321.0 1503.6)" />
<path d="M1305,1541 Q1318,1536 1330.5,1541 L1331,1563 Q1332,1568 1335.5,1572 Q1337,1579 1330,1581 Q1316,1583.5 1303,1581 Q1297,1579 1298.5,1572 Q1303,1568 1304,1563Z" fill="url(#b6)" />
<ellipse cx="1317.8" cy="1541.0" rx="12.8" ry="3.6" fill="#8a8a8a" />
<path d="M1305,1548 q13,4 26,0" fill="none" stroke="#5a5a5a" stroke-width="1.2"/>
<path d="M1305,1554 q13,4 26,0" fill="none" stroke="#5a5a5a" stroke-width="1.2"/>
<path d="M1305,1560 q13,4 26,0" fill="none" stroke="#5a5a5a" stroke-width="1.2"/>
<path d="M1298.5,1573 Q1317,1579 1336,1573" fill="none" stroke="#4a4a4a" stroke-width="1.8"/>
<g transform="rotate(-23.5 1234 1355)">
<rect x="1224.5" y="1317" width="19" height="76" rx="9" fill="#8e8e8e"/>
<rect x="1224.5" y="1318" width="14" height="73" rx="7" fill="#6a6a6a"/>
<rect x="1228" y="1328" width="8" height="54" rx="3" fill="#777"/>
<ellipse cx="1232" cy="1325" rx="3.3" ry="4.2" fill="#f0f0f0"/><ellipse cx="1232" cy="1385.5" rx="3.3" ry="4.2" fill="#f0f0f0"/>
</g>
<g transform="translate(1150.5 1380.5) rotate(-30.5)">
<path d="M-7.0,-11.0 L4.0,-11.0 A5.0,11.0 0 0 1 4.0,11.0 L-7.0,11.0 A5.0,11.0 0 0 1 -7.0,-11.0Z" fill="url(#mg1)"/>
<path d="M3.0,-5.9 L50.0,-5.9 A2.7,5.9 0 0 1 50.0,5.9 L3.0,5.9 A2.7,5.9 0 0 1 3.0,-5.9Z" fill="url(#mg12)"/>
<ellipse cx="-7.0" cy="0" rx="5.0" ry="11.0" fill="#6e6e6e"/>
</g>
<g transform="translate(1150.5 1380.5) rotate(-30.5)"><ellipse cx="-7" cy="0" rx="2.6" ry="5" fill="#9a9a9a"/></g>
<g transform="translate(1112.5 1464.5) rotate(-30.5)">
<path d="M-7.0,-11.0 L4.0,-11.0 A5.0,11.0 0 0 1 4.0,11.0 L-7.0,11.0 A5.0,11.0 0 0 1 -7.0,-11.0Z" fill="url(#mg1)"/>
<path d="M3.0,-5.9 L68.0,-5.9 A2.7,5.9 0 0 1 68.0,5.9 L3.0,5.9 A2.7,5.9 0 0 1 3.0,-5.9Z" fill="url(#mg12)"/>
<ellipse cx="-7.0" cy="0" rx="5.0" ry="11.0" fill="#6e6e6e"/>
</g>
<g transform="translate(1112.5 1464.5) rotate(-30.5)"><ellipse cx="-7" cy="0" rx="2.6" ry="5" fill="#9a9a9a"/></g>
<rect x="159.5" y="1556.3" width="707.5" height="31.5" fill="url(#cab)"/>
<text x="325" y="1580.5" font-family="Liberation Sans, sans-serif" font-weight="bold" font-style="italic" font-size="19" fill="url(#ctx)" textLength="119" lengthAdjust="spacingAndGlyphs">SHIMANO</text>
<text x="456" y="1581" font-family="Liberation Sans, sans-serif" font-weight="bold" font-style="italic" font-size="24" fill="url(#ctx)" textLength="66" lengthAdjust="spacingAndGlyphs">SIS</text>
<text x="541" y="1580.5" font-family="Liberation Sans, sans-serif" font-weight="bold" font-size="19" fill="url(#ctx)" textLength="118" lengthAdjust="spacingAndGlyphs" opacity="0.8">OT-RS900</text>
<polyline points="176.0,563.0 233.0,586.0" fill="none" stroke="#f4f4f4" stroke-width="5.2" stroke-linecap="butt" opacity="0.95"/>
<polyline points="176.0,563.0 233.0,586.0" fill="none" stroke="#242424" stroke-width="2.0" />
<polyline points="348.0,635.0 377.0,646.5" fill="none" stroke="#f4f4f4" stroke-width="5.2" stroke-linecap="butt" opacity="0.95"/>
<polyline points="348.0,635.0 377.0,646.5" fill="none" stroke="#242424" stroke-width="2.0" />
<polyline points="468.0,681.6 520.0,703.0" fill="none" stroke="#f4f4f4" stroke-width="5.2" stroke-linecap="butt" opacity="0.95"/>
<polyline points="468.0,681.6 520.0,703.0" fill="none" stroke="#242424" stroke-width="2.0" />
<polyline points="576.0,725.0 601.0,735.5" fill="none" stroke="#f4f4f4" stroke-width="5.2" stroke-linecap="butt" opacity="0.95"/>
<polyline points="576.0,725.0 601.0,735.5" fill="none" stroke="#242424" stroke-width="2.0" />
<polyline points="176.0,819.0 212.0,834.0" fill="none" stroke="#f4f4f4" stroke-width="5.2" stroke-linecap="butt" opacity="0.95"/>
<polyline points="176.0,819.0 212.0,834.0" fill="none" stroke="#242424" stroke-width="2.0" />
<polyline points="344.0,889.0 373.0,900.5" fill="none" stroke="#f4f4f4" stroke-width="5.2" stroke-linecap="butt" opacity="0.95"/>
<polyline points="344.0,889.0 373.0,900.5" fill="none" stroke="#242424" stroke-width="2.0" />
<polyline points="465.0,937.0 512.0,957.0" fill="none" stroke="#f4f4f4" stroke-width="5.2" stroke-linecap="butt" opacity="0.95"/>
<polyline points="465.0,937.0 512.0,957.0" fill="none" stroke="#242424" stroke-width="2.0" />
<polyline points="574.0,983.0 598.0,993.0" fill="none" stroke="#f4f4f4" stroke-width="5.2" stroke-linecap="butt" opacity="0.95"/>
<polyline points="574.0,983.0 598.0,993.0" fill="none" stroke="#242424" stroke-width="2.0" />
<polyline points="842.6,838.4 852.0,842.3" fill="none" stroke="#f4f4f4" stroke-width="5.2" stroke-linecap="butt" opacity="0.95"/>
<polyline points="842.6,838.4 852.0,842.3" fill="none" stroke="#242424" stroke-width="2.0" />
<polyline points="765.0,853.0 792.0,864.8" fill="none" stroke="#f4f4f4" stroke-width="5.2" stroke-linecap="butt" opacity="0.95"/>
<polyline points="765.0,853.0 792.0,864.8" fill="none" stroke="#242424" stroke-width="2.0" />
<polyline points="755.0,1056.6 802.0,1075.8" fill="none" stroke="#f4f4f4" stroke-width="5.2" stroke-linecap="butt" opacity="0.95"/>
<polyline points="755.0,1056.6 802.0,1075.8" fill="none" stroke="#242424" stroke-width="2.0" />
<polyline points="1128.0,957.0 1146.0,964.6" fill="none" stroke="#f4f4f4" stroke-width="5.2" stroke-linecap="butt" opacity="0.95"/>
<polyline points="1128.0,957.0 1146.0,964.6" fill="none" stroke="#242424" stroke-width="2.0" />
<polyline points="1261.9,1012.9 1300.0,1028.7" fill="none" stroke="#f4f4f4" stroke-width="5.2" stroke-linecap="butt" opacity="0.95"/>
<polyline points="1261.9,1012.9 1300.0,1028.7" fill="none" stroke="#242424" stroke-width="2.0" />
<polyline points="1475.0,881.2 1500.0,891.5" fill="none" stroke="#f4f4f4" stroke-width="5.2" stroke-linecap="butt" opacity="0.95"/>
<polyline points="1475.0,881.2 1500.0,891.5" fill="none" stroke="#242424" stroke-width="2.0" />
<polyline points="1394.0,1195.3 1402.7,1199.9" fill="none" stroke="#f4f4f4" stroke-width="5.2" stroke-linecap="butt" opacity="0.95"/>
<polyline points="1394.0,1195.3 1402.7,1199.9" fill="none" stroke="#242424" stroke-width="1.8" />
<polyline points="1533.0,1100.0 1533.0,1251.0" fill="none" stroke="#f4f4f4" stroke-width="5.2" stroke-linecap="butt" opacity="0.95"/>
<polyline points="1533.0,1100.0 1533.0,1251.0" fill="none" stroke="#555" stroke-width="1.8" />
<polyline points="1477.2,1227.8 1533.0,1251.0" fill="none" stroke="#f4f4f4" stroke-width="5.2" stroke-linecap="butt" opacity="0.95"/>
<polyline points="1477.2,1227.8 1533.0,1251.0" fill="none" stroke="#242424" stroke-width="1.8" />
<polyline points="1429.0,1207.6 1448.0,1217.0" fill="none" stroke="#f4f4f4" stroke-width="5.2" stroke-linecap="butt" opacity="0.95"/>
<polyline points="1429.0,1207.6 1448.0,1217.0" fill="none" stroke="#242424" stroke-width="1.8" />
<polyline points="1312.0,1276.0 1397.2,1220.0" fill="none" stroke="#f4f4f4" stroke-width="5.2" stroke-linecap="butt" opacity="0.95"/>
<polyline points="1312.0,1276.0 1397.2,1220.0" fill="none" stroke="#242424" stroke-width="1.8" />
<polyline points="1377.0,1272.9 1395.7,1246.5 1580.0,1321.0" fill="none" stroke="#f4f4f4" stroke-width="5.2" stroke-linecap="butt" opacity="0.95"/>
<polyline points="1377.0,1272.9 1395.7,1246.5 1580.0,1321.0" fill="none" stroke="#242424" stroke-width="1.8" />
<polyline points="1580.0,1321.0 1632.0,1343.6" fill="none" stroke="#242424" stroke-width="2.0" />
<polyline points="1447.0,1282.2 1440.0,1298.0" fill="none" stroke="#f4f4f4" stroke-width="5.2" stroke-linecap="butt" opacity="0.95"/>
<polyline points="1447.0,1282.2 1440.0,1298.0" fill="none" stroke="#242424" stroke-width="1.8" />
<polyline points="1866.0,1016.0 1851.0,1037.0" fill="none" stroke="#f4f4f4" stroke-width="4.2" stroke-linecap="butt" opacity="0.95"/>
<polyline points="1866.0,1016.0 1851.0,1037.0" fill="none" stroke="#242424" stroke-width="1.6" />
<polyline points="1782.0,1133.0 1769.0,1151.0" fill="none" stroke="#f4f4f4" stroke-width="4" stroke-linecap="butt" opacity="0.95"/>
<polyline points="1782.0,1133.0 1769.0,1151.0" fill="none" stroke="#242424" stroke-width="1.6" />
<polyline points="1735.0,1199.0 1717.0,1224.0" fill="none" stroke="#f4f4f4" stroke-width="4" stroke-linecap="butt" opacity="0.95"/>
<polyline points="1735.0,1199.0 1717.0,1224.0" fill="none" stroke="#242424" stroke-width="1.6" />
<polyline points="1813.0,1089.5 1796.0,1113.5" fill="none" stroke="#242424" stroke-width="2.0" />
<polyline points="1215.0,1338.0 1226.0,1331.6" fill="none" stroke="#f4f4f4" stroke-width="4.5" stroke-linecap="butt" opacity="0.95"/>
<polyline points="1215.0,1338.0 1226.0,1331.6" fill="none" stroke="#242424" stroke-width="1.8" />
<polyline points="1235.0,1387.7 1247.0,1380.6" fill="none" stroke="#f4f4f4" stroke-width="4.5" stroke-linecap="butt" opacity="0.95"/>
<polyline points="1235.0,1387.7 1247.0,1380.6" fill="none" stroke="#242424" stroke-width="1.8" />
</g>
</svg></body></html>
